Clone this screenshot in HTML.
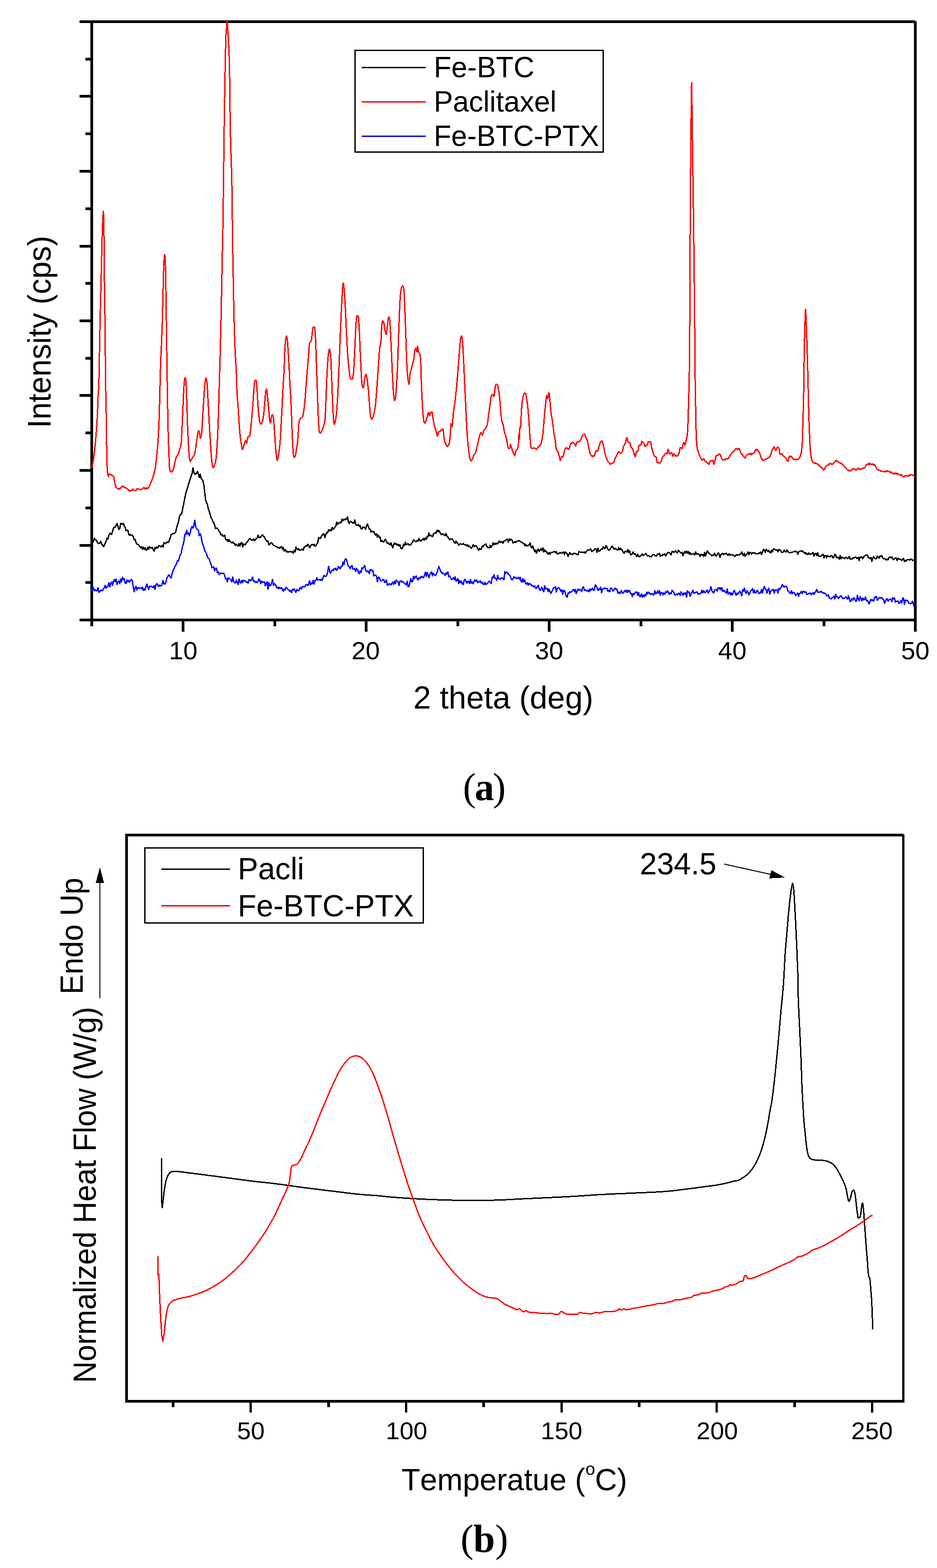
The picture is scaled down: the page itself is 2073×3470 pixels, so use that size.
<!DOCTYPE html>
<html lang="en"><head><meta charset="utf-8"><title>XRD patterns and DSC thermograms</title>
<style>html,body{margin:0;padding:0;background:#fff}svg{display:block}text{font-family:'Liberation Sans', sans-serif;fill:#000;font-kerning:none;white-space:pre}.serif{font-family:'Liberation Serif', serif}</style></head><body>
<svg width="2073" height="3470" viewBox="0 0 2073 3470">
<rect x="0" y="0" width="2073" height="3470" fill="#fff"/>
<g id="chart-a">
<g fill="#000" shape-rendering="crispEdges">
<rect x="176" y="45" width="1849" height="6"/>
<rect x="176" y="1369" width="1852" height="6"/>
<rect x="200" y="45" width="6" height="1341"/>
<rect x="2022" y="47" width="6" height="1351"/>
<rect x="176" y="210" width="26" height="6"/>
<rect x="176" y="376" width="26" height="6"/>
<rect x="176" y="542" width="26" height="6"/>
<rect x="176" y="707" width="26" height="6"/>
<rect x="176" y="872" width="26" height="6"/>
<rect x="176" y="1038" width="26" height="6"/>
<rect x="176" y="1204" width="26" height="6"/>
<rect x="189" y="128" width="13" height="6"/>
<rect x="189" y="293" width="13" height="6"/>
<rect x="189" y="459" width="13" height="6"/>
<rect x="189" y="624" width="13" height="6"/>
<rect x="189" y="790" width="13" height="6"/>
<rect x="189" y="955" width="13" height="6"/>
<rect x="189" y="1121" width="13" height="6"/>
<rect x="189" y="1286" width="13" height="6"/>
<rect x="402" y="1372" width="6" height="26"/>
<rect x="807" y="1372" width="6" height="26"/>
<rect x="1212" y="1372" width="6" height="26"/>
<rect x="1617" y="1372" width="6" height="26"/>
<rect x="605" y="1372" width="6" height="14"/>
<rect x="1010" y="1372" width="6" height="14"/>
<rect x="1415" y="1372" width="6" height="14"/>
<rect x="1820" y="1372" width="6" height="14"/>
</g>
<path d="M202.9 1311.2L204.9 1297.7L206.9 1301.8L208.9 1307.1L210.9 1305.5L212.9 1307.8L214.9 1307.3L216.9 1300.5L218.9 1310.9L220.9 1309.9L222.9 1306.0L224.9 1306.7L226.9 1307.2L228.9 1302.4L230.9 1300.7L232.9 1295.3L234.9 1301.5L236.9 1299.0L238.9 1297.7L240.9 1289.2L242.9 1298.7L244.9 1291.5L246.9 1288.1L248.9 1295.3L250.9 1286.5L252.9 1282.4L254.9 1287.2L256.9 1281.4L258.9 1293.4L260.9 1287.6L262.9 1285.9L264.9 1291.8L266.9 1281.0L268.9 1287.8L270.9 1277.5L272.9 1282.5L274.9 1280.5L276.9 1290.1L278.9 1291.2L280.9 1283.7L282.9 1287.9L284.9 1284.5L286.9 1288.2L288.9 1284.4L290.9 1282.0L292.9 1286.4L294.9 1299.6L296.9 1309.5L298.9 1301.4L300.9 1297.5L302.9 1305.3L304.9 1300.2L306.9 1300.7L308.9 1302.2L310.9 1301.8L312.9 1302.2L314.9 1299.2L316.9 1306.6L318.9 1302.9L320.9 1306.0L322.9 1298.9L324.9 1292.7L326.9 1298.8L328.9 1304.7L330.9 1297.7L332.9 1297.4L334.9 1297.8L336.9 1299.4L338.9 1300.6L340.9 1296.0L342.9 1304.1L344.9 1294.3L346.9 1291.7L348.9 1294.2L350.9 1297.7L352.9 1294.9L354.9 1296.8L356.9 1296.8L358.9 1291.9L360.9 1284.9L362.9 1292.6L364.9 1292.5L366.9 1289.8L368.9 1279.8L370.9 1277.1L372.9 1272.4L374.9 1273.0L376.9 1278.2L378.9 1278.2L380.9 1269.1L382.9 1262.7L384.9 1259.0L386.9 1254.0L388.9 1251.3L390.9 1245.9L392.9 1240.8L394.9 1241.8L396.9 1233.2L398.9 1227.6L400.9 1224.7L402.9 1212.5L404.9 1206.2L406.9 1197.7L408.9 1182.8L410.9 1182.6L412.9 1173.6L414.9 1182.1L416.9 1178.9L418.9 1185.6L420.9 1178.7L422.9 1169.4L424.9 1165.0L426.9 1168.7L428.9 1163.5L430.9 1151.0L432.9 1164.4L434.9 1170.9L436.9 1171.3L438.9 1173.3L440.9 1185.3L442.9 1181.1L444.9 1186.4L446.9 1199.2L448.9 1205.3L450.9 1210.3L452.9 1218.1L454.9 1221.7L456.9 1225.9L458.9 1232.7L460.9 1235.4L462.9 1237.4L464.9 1243.7L466.9 1248.5L468.9 1256.4L470.9 1255.2L472.9 1254.5L474.9 1263.3L476.9 1258.9L478.9 1257.3L480.9 1267.1L482.9 1265.1L484.9 1271.5L486.9 1269.1L488.9 1268.3L490.9 1268.0L492.9 1269.3L494.9 1268.8L496.9 1272.4L498.9 1280.4L500.9 1280.2L502.9 1287.8L504.9 1278.9L506.9 1280.6L508.9 1280.9L510.9 1283.7L512.9 1287.2L514.9 1276.9L516.9 1286.8L518.9 1289.9L520.9 1290.1L522.9 1283.2L524.9 1288.0L526.9 1293.3L528.9 1281.2L530.9 1288.3L532.9 1290.6L534.9 1284.3L536.9 1289.4L538.9 1284.0L540.9 1285.3L542.9 1285.3L544.9 1288.9L546.9 1287.9L548.9 1290.6L550.9 1282.4L552.9 1283.8L554.9 1285.7L556.9 1282.3L558.9 1277.0L560.9 1286.7L562.9 1285.0L564.9 1289.1L566.9 1287.5L568.9 1289.4L570.9 1286.6L572.9 1281.0L574.9 1284.3L576.9 1291.5L578.9 1286.0L580.9 1289.0L582.9 1288.3L584.9 1287.1L586.9 1296.2L588.9 1291.0L590.9 1287.5L592.9 1303.3L594.9 1289.3L596.9 1296.5L598.9 1295.6L600.9 1290.7L602.9 1282.3L604.9 1296.0L606.9 1291.2L608.9 1293.5L610.9 1297.1L612.9 1301.2L614.9 1299.6L616.9 1303.0L618.9 1300.0L620.9 1302.4L622.9 1300.3L624.9 1304.6L626.9 1308.6L628.9 1303.8L630.9 1305.1L632.9 1299.9L634.9 1300.9L636.9 1304.7L638.9 1305.3L640.9 1308.7L642.9 1306.7L644.9 1311.8L646.9 1304.4L648.9 1305.2L650.9 1303.1L652.9 1307.7L654.9 1310.9L656.9 1304.7L658.9 1306.0L660.9 1307.5L662.9 1302.9L664.9 1300.0L666.9 1303.8L668.9 1298.7L670.9 1297.8L672.9 1298.6L674.9 1298.3L676.9 1293.4L678.9 1293.2L680.9 1296.0L682.9 1293.0L684.9 1285.1L686.9 1295.0L688.9 1290.0L690.9 1292.1L692.9 1284.7L694.9 1292.4L696.9 1284.2L698.9 1284.4L700.9 1278.6L702.9 1283.1L704.9 1282.8L706.9 1283.0L708.9 1284.4L710.9 1282.0L712.9 1284.3L714.9 1277.6L716.9 1273.7L718.9 1275.2L720.9 1275.2L722.9 1272.9L724.9 1266.9L726.9 1253.1L728.9 1261.8L730.9 1268.4L732.9 1265.0L734.9 1261.3L736.9 1262.7L738.9 1258.1L740.9 1260.7L742.9 1257.7L744.9 1262.1L746.9 1258.2L748.9 1253.1L750.9 1257.2L752.9 1258.4L754.9 1253.0L756.9 1253.5L758.9 1243.5L760.9 1249.7L762.9 1239.6L764.9 1236.1L766.9 1239.3L768.9 1247.4L770.9 1254.0L772.9 1253.9L774.9 1258.4L776.9 1252.7L778.9 1251.9L780.9 1259.9L782.9 1259.5L784.9 1258.8L786.9 1264.7L788.9 1257.9L790.9 1260.6L792.9 1266.3L794.9 1269.7L796.9 1263.0L798.9 1267.0L800.9 1256.8L802.9 1258.2L804.9 1254.4L806.9 1251.8L808.9 1261.0L810.9 1265.9L812.9 1263.2L814.9 1264.0L816.9 1269.8L818.9 1260.8L820.9 1260.4L822.9 1263.9L824.9 1262.5L826.9 1274.4L828.9 1273.7L830.9 1272.4L832.9 1275.3L834.9 1287.1L836.9 1277.3L838.9 1277.8L840.9 1283.1L842.9 1285.8L844.9 1285.8L846.9 1282.5L848.9 1282.1L850.9 1288.9L852.9 1287.5L854.9 1283.3L856.9 1294.9L858.9 1294.9L860.9 1291.8L862.9 1292.2L864.9 1294.5L866.9 1291.0L868.9 1288.1L870.9 1293.6L872.9 1286.4L874.9 1291.5L876.9 1283.4L878.9 1286.7L880.9 1287.5L882.9 1295.4L884.9 1286.2L886.9 1285.3L888.9 1288.1L890.9 1286.4L892.9 1288.2L894.9 1291.3L896.9 1292.1L898.9 1294.8L900.9 1286.5L902.9 1298.3L904.9 1297.3L906.9 1289.2L908.9 1280.7L910.9 1287.6L912.9 1287.0L914.9 1275.4L916.9 1281.0L918.9 1277.0L920.9 1274.8L922.9 1280.9L924.9 1283.3L926.9 1278.4L928.9 1280.4L930.9 1276.8L932.9 1275.8L934.9 1277.9L936.9 1278.5L938.9 1273.6L940.9 1266.6L942.9 1275.7L944.9 1266.9L946.9 1272.3L948.9 1278.3L950.9 1271.8L952.9 1267.6L954.9 1265.7L956.9 1274.2L958.9 1268.9L960.9 1271.1L962.9 1273.9L964.9 1271.7L966.9 1266.8L968.9 1260.5L970.9 1253.8L972.9 1258.5L974.9 1265.2L976.9 1266.3L978.9 1269.4L980.9 1268.5L982.9 1270.5L984.9 1273.3L986.9 1267.7L988.9 1270.2L990.9 1265.9L992.9 1276.4L994.9 1275.0L996.9 1278.7L998.9 1283.0L1000.9 1281.8L1002.9 1278.2L1004.9 1282.7L1006.9 1276.7L1008.9 1285.4L1010.9 1286.0L1012.9 1280.2L1014.9 1291.3L1016.9 1284.4L1018.9 1289.9L1020.9 1286.5L1022.9 1292.1L1024.9 1293.2L1026.9 1285.0L1028.9 1282.0L1030.9 1286.6L1032.9 1290.7L1034.9 1286.8L1036.9 1286.4L1038.9 1291.6L1040.9 1282.7L1042.9 1290.5L1044.9 1288.0L1046.9 1292.0L1048.9 1286.3L1050.9 1283.1L1052.9 1286.8L1054.9 1283.8L1056.9 1290.0L1058.9 1287.3L1060.9 1287.4L1062.9 1285.2L1064.9 1290.8L1066.9 1288.6L1068.9 1292.4L1070.9 1293.7L1072.9 1288.7L1074.9 1293.2L1076.9 1291.9L1078.9 1291.0L1080.9 1287.4L1082.9 1286.3L1084.9 1289.3L1086.9 1291.1L1088.9 1277.0L1090.9 1278.7L1092.9 1272.3L1094.9 1279.0L1096.9 1280.4L1098.9 1284.6L1100.9 1273.1L1102.9 1280.6L1104.9 1280.0L1106.9 1282.2L1108.9 1279.0L1110.9 1278.3L1112.9 1281.0L1114.9 1282.9L1116.9 1264.9L1118.9 1269.0L1120.9 1266.3L1122.9 1267.0L1124.9 1271.1L1126.9 1272.2L1128.9 1274.4L1130.9 1281.2L1132.9 1283.3L1134.9 1280.6L1136.9 1276.5L1138.9 1279.0L1140.9 1277.6L1142.9 1280.9L1144.9 1279.9L1146.9 1277.8L1148.9 1281.7L1150.9 1277.8L1152.9 1286.0L1154.9 1288.3L1156.9 1280.8L1158.9 1287.5L1160.9 1283.5L1162.9 1291.9L1164.9 1292.3L1166.9 1289.2L1168.9 1295.1L1170.9 1291.5L1172.9 1292.2L1174.9 1293.7L1176.9 1296.2L1178.9 1296.5L1180.9 1299.0L1182.9 1296.2L1184.9 1301.2L1186.9 1302.1L1188.9 1297.5L1190.9 1295.2L1192.9 1303.9L1194.9 1306.4L1196.9 1302.7L1198.9 1299.7L1200.9 1306.0L1202.9 1309.6L1204.9 1296.3L1206.9 1303.8L1208.9 1302.2L1210.9 1302.3L1212.9 1309.2L1214.9 1303.9L1216.9 1309.6L1218.9 1313.3L1220.9 1309.2L1222.9 1304.4L1224.9 1300.1L1226.9 1300.9L1228.9 1298.2L1230.9 1310.1L1232.9 1303.0L1234.9 1300.3L1236.9 1301.4L1238.9 1304.2L1240.9 1308.9L1242.9 1305.2L1244.9 1315.3L1246.9 1306.1L1248.9 1307.1L1250.9 1313.5L1252.9 1320.2L1254.9 1321.3L1256.9 1312.3L1258.9 1312.5L1260.9 1309.6L1262.9 1310.5L1264.9 1309.5L1266.9 1305.2L1268.9 1304.0L1270.9 1309.2L1272.9 1304.3L1274.9 1313.4L1276.9 1308.2L1278.9 1303.8L1280.9 1305.9L1282.9 1304.7L1284.9 1305.6L1286.9 1308.9L1288.9 1300.1L1290.9 1298.7L1292.9 1306.9L1294.9 1305.2L1296.9 1306.8L1298.9 1308.1L1300.9 1306.1L1302.9 1309.8L1304.9 1303.7L1306.9 1307.1L1308.9 1303.7L1310.9 1301.6L1312.9 1306.9L1314.9 1305.7L1316.9 1294.8L1318.9 1295.8L1320.9 1300.6L1322.9 1306.7L1324.9 1303.8L1326.9 1305.0L1328.9 1299.1L1330.9 1311.3L1332.9 1303.0L1334.9 1303.3L1336.9 1301.3L1338.9 1301.3L1340.9 1302.8L1342.9 1302.2L1344.9 1308.7L1346.9 1306.5L1348.9 1309.9L1350.9 1301.5L1352.9 1301.6L1354.9 1305.9L1356.9 1308.1L1358.9 1304.0L1360.9 1301.4L1362.9 1304.1L1364.9 1303.2L1366.9 1312.9L1368.9 1310.8L1370.9 1313.6L1372.9 1311.1L1374.9 1307.0L1376.9 1312.3L1378.9 1313.0L1380.9 1309.0L1382.9 1306.8L1384.9 1310.8L1386.9 1306.0L1388.9 1311.1L1390.9 1306.8L1392.9 1306.9L1394.9 1313.4L1396.9 1313.6L1398.9 1320.2L1400.9 1313.4L1402.9 1315.4L1404.9 1312.3L1406.9 1310.1L1408.9 1309.9L1410.9 1317.5L1412.9 1311.1L1414.9 1319.4L1416.9 1320.4L1418.9 1314.3L1420.9 1321.6L1422.9 1316.9L1424.9 1320.7L1426.9 1315.8L1428.9 1318.6L1430.9 1310.2L1432.9 1314.3L1434.9 1310.7L1436.9 1312.4L1438.9 1315.7L1440.9 1314.2L1442.9 1313.4L1444.9 1316.2L1446.9 1316.4L1448.9 1307.5L1450.9 1313.5L1452.9 1312.9L1454.9 1307.9L1456.9 1312.5L1458.9 1306.9L1460.9 1317.1L1462.9 1311.1L1464.9 1311.7L1466.9 1316.3L1468.9 1311.9L1470.9 1315.1L1472.9 1309.7L1474.9 1311.2L1476.9 1307.8L1478.9 1311.5L1480.9 1315.5L1482.9 1312.1L1484.9 1314.0L1486.9 1306.6L1488.9 1308.5L1490.9 1311.5L1492.9 1316.7L1494.9 1316.3L1496.9 1314.5L1498.9 1316.3L1500.9 1313.0L1502.9 1312.9L1504.9 1317.2L1506.9 1309.9L1508.9 1312.6L1510.9 1317.7L1512.9 1312.3L1514.9 1314.9L1516.9 1311.2L1518.9 1321.4L1520.9 1307.2L1522.9 1310.7L1524.9 1310.5L1526.9 1319.6L1528.9 1314.2L1530.9 1311.0L1532.9 1306.3L1534.9 1312.1L1536.9 1312.7L1538.9 1311.3L1540.9 1309.9L1542.9 1310.8L1544.9 1315.1L1546.9 1314.9L1548.9 1313.6L1550.9 1312.3L1552.9 1306.0L1554.9 1312.0L1556.9 1307.6L1558.9 1311.0L1560.9 1312.0L1562.9 1307.4L1564.9 1305.6L1566.9 1312.4L1568.9 1309.5L1570.9 1305.3L1572.9 1298.3L1574.9 1307.2L1576.9 1310.1L1578.9 1312.4L1580.9 1305.5L1582.9 1304.7L1584.9 1304.4L1586.9 1308.1L1588.9 1300.4L1590.9 1303.7L1592.9 1300.3L1594.9 1305.8L1596.9 1300.7L1598.9 1309.1L1600.9 1306.8L1602.9 1307.8L1604.9 1310.5L1606.9 1312.8L1608.9 1303.6L1610.9 1314.3L1612.9 1313.7L1614.9 1310.9L1616.9 1317.0L1618.9 1312.6L1620.9 1316.2L1622.9 1308.4L1624.9 1306.4L1626.9 1313.0L1628.9 1317.4L1630.9 1312.9L1632.9 1314.8L1634.9 1310.6L1636.9 1308.0L1638.9 1312.4L1640.9 1318.6L1642.9 1305.0L1644.9 1308.4L1646.9 1301.8L1648.9 1309.9L1650.9 1313.6L1652.9 1307.0L1654.9 1310.5L1656.9 1316.7L1658.9 1311.6L1660.9 1307.3L1662.9 1306.0L1664.9 1302.5L1666.9 1311.6L1668.9 1305.9L1670.9 1312.4L1672.9 1311.7L1674.9 1306.6L1676.9 1308.1L1678.9 1313.8L1680.9 1312.4L1682.9 1311.9L1684.9 1304.0L1686.9 1312.1L1688.9 1304.4L1690.9 1297.9L1692.9 1302.3L1694.9 1305.3L1696.9 1312.4L1698.9 1304.5L1700.9 1302.0L1702.9 1315.0L1704.9 1308.4L1706.9 1307.4L1708.9 1304.4L1710.9 1304.2L1712.9 1312.6L1714.9 1305.9L1716.9 1305.0L1718.9 1305.1L1720.9 1312.5L1722.9 1302.7L1724.9 1304.6L1726.9 1300.8L1728.9 1298.6L1730.9 1293.1L1732.9 1297.1L1734.9 1299.5L1736.9 1297.0L1738.9 1297.4L1740.9 1299.6L1742.9 1307.7L1744.9 1308.5L1746.9 1311.6L1748.9 1313.3L1750.9 1307.0L1752.9 1314.1L1754.9 1311.1L1756.9 1311.5L1758.9 1314.1L1760.9 1318.1L1762.9 1315.5L1764.9 1312.2L1766.9 1319.5L1768.9 1313.6L1770.9 1312.1L1772.9 1308.6L1774.9 1313.7L1776.9 1308.5L1778.9 1308.9L1780.9 1310.9L1782.9 1309.7L1784.9 1315.2L1786.9 1314.7L1788.9 1313.8L1790.9 1313.6L1792.9 1312.4L1794.9 1316.1L1796.9 1313.3L1798.9 1311.3L1800.9 1315.3L1802.9 1311.9L1804.9 1308.9L1806.9 1304.1L1808.9 1310.2L1810.9 1310.5L1812.9 1310.8L1814.9 1310.0L1816.9 1308.9L1818.9 1311.1L1820.9 1312.8L1822.9 1311.9L1824.9 1313.4L1826.9 1313.7L1828.9 1318.1L1830.9 1319.0L1832.9 1316.8L1834.9 1323.5L1836.9 1324.6L1838.9 1325.4L1840.9 1322.7L1842.9 1323.0L1844.9 1319.2L1846.9 1325.8L1848.9 1315.1L1850.9 1321.0L1852.9 1320.8L1854.9 1324.7L1856.9 1321.8L1858.9 1319.3L1860.9 1318.7L1862.9 1322.1L1864.9 1324.9L1866.9 1324.5L1868.9 1323.4L1870.9 1321.2L1872.9 1322.3L1874.9 1326.0L1876.9 1318.6L1878.9 1324.2L1880.9 1331.4L1882.9 1329.1L1884.9 1325.0L1886.9 1328.5L1888.9 1322.9L1890.9 1325.1L1892.9 1330.2L1894.9 1330.9L1896.9 1317.5L1898.9 1325.6L1900.9 1329.6L1902.9 1320.2L1904.9 1323.8L1906.9 1329.3L1908.9 1323.1L1910.9 1327.5L1912.9 1326.7L1914.9 1321.0L1916.9 1330.0L1918.9 1328.1L1920.9 1332.1L1922.9 1336.3L1924.9 1330.9L1926.9 1326.6L1928.9 1329.0L1930.9 1327.8L1932.9 1330.8L1934.9 1321.9L1936.9 1322.9L1938.9 1319.2L1940.9 1328.3L1942.9 1325.5L1944.9 1323.1L1946.9 1322.8L1948.9 1323.4L1950.9 1322.5L1952.9 1326.2L1954.9 1327.1L1956.9 1335.3L1958.9 1330.7L1960.9 1325.6L1962.9 1325.5L1964.9 1330.9L1966.9 1327.2L1968.9 1325.6L1970.9 1326.6L1972.9 1331.2L1974.9 1322.6L1976.9 1325.8L1978.9 1323.3L1980.9 1332.4L1982.9 1330.2L1984.9 1330.0L1986.9 1330.1L1988.9 1335.9L1990.9 1333.2L1992.9 1329.8L1994.9 1334.2L1996.9 1324.0L1998.9 1323.2L2000.9 1337.4L2002.9 1328.5L2004.9 1328.7L2006.9 1328.5L2008.9 1331.1L2010.9 1335.0L2012.9 1335.8L2014.9 1336.1L2016.9 1334.1L2018.9 1330.5L2020.9 1337.5L2022.9 1342.5" fill="none" stroke="#0000ff" stroke-width="3.0" stroke-linejoin="round" stroke-linecap="butt" shape-rendering="crispEdges"/>
<path d="M202.9 1205.0L204.9 1200.3L206.9 1198.0L208.9 1191.8L210.9 1194.1L212.9 1194.9L214.9 1199.6L216.9 1202.3L218.9 1203.1L220.9 1201.0L222.9 1198.0L224.9 1204.0L226.9 1206.0L228.9 1209.9L230.9 1206.8L232.9 1201.8L234.9 1197.4L236.9 1191.0L238.9 1193.1L240.9 1184.1L242.9 1180.5L244.9 1180.8L246.9 1182.9L248.9 1176.3L250.9 1169.3L252.9 1166.4L254.9 1167.1L256.9 1162.7L258.9 1158.8L260.9 1164.9L262.9 1171.4L264.9 1170.1L266.9 1158.1L268.9 1159.2L270.9 1160.3L272.9 1158.2L274.9 1164.5L276.9 1166.9L278.9 1174.3L280.9 1173.3L282.9 1173.5L284.9 1183.0L286.9 1184.6L288.9 1182.7L290.9 1184.8L292.9 1184.2L294.9 1188.1L296.9 1194.7L298.9 1193.8L300.9 1200.4L302.9 1204.0L304.9 1204.1L306.9 1205.9L308.9 1208.9L310.9 1212.8L312.9 1209.6L314.9 1215.9L316.9 1210.9L318.9 1215.4L320.9 1212.1L322.9 1217.6L324.9 1216.7L326.9 1211.4L328.9 1215.3L330.9 1209.9L332.9 1212.4L334.9 1212.9L336.9 1211.2L338.9 1216.2L340.9 1219.9L342.9 1211.3L344.9 1214.4L346.9 1210.3L348.9 1213.0L350.9 1207.9L352.9 1208.2L354.9 1209.6L356.9 1210.2L358.9 1206.9L360.9 1210.3L362.9 1200.3L364.9 1202.7L366.9 1203.1L368.9 1199.1L370.9 1200.3L372.9 1200.1L374.9 1194.6L376.9 1189.2L378.9 1182.1L380.9 1182.0L382.9 1180.8L384.9 1181.0L386.9 1179.9L388.9 1176.9L390.9 1167.2L392.9 1160.8L394.9 1154.7L396.9 1143.9L398.9 1138.5L400.9 1138.3L402.9 1133.2L404.9 1121.7L406.9 1112.7L408.9 1102.2L410.9 1092.3L412.9 1085.7L414.9 1080.0L416.9 1072.4L418.9 1065.7L420.9 1060.0L422.9 1054.0L424.9 1048.2L426.9 1035.6L428.9 1044.9L430.9 1049.4L432.9 1049.2L434.9 1047.0L436.9 1043.1L438.9 1049.1L440.9 1056.9L442.9 1049.5L444.9 1058.1L446.9 1061.3L448.9 1063.9L450.9 1072.6L452.9 1090.2L454.9 1106.8L456.9 1111.7L458.9 1116.3L460.9 1126.1L462.9 1131.1L464.9 1138.9L466.9 1145.2L468.9 1148.5L470.9 1154.1L472.9 1156.3L474.9 1161.7L476.9 1169.7L478.9 1169.0L480.9 1168.9L482.9 1172.5L484.9 1176.2L486.9 1178.0L488.9 1184.0L490.9 1182.6L492.9 1186.9L494.9 1185.5L496.9 1184.1L498.9 1192.5L500.9 1195.6L502.9 1193.3L504.9 1199.0L506.9 1194.5L508.9 1198.5L510.9 1199.4L512.9 1201.4L514.9 1199.7L516.9 1202.3L518.9 1203.1L520.9 1207.0L522.9 1204.1L524.9 1207.7L526.9 1208.4L528.9 1202.9L530.9 1208.5L532.9 1201.7L534.9 1200.9L536.9 1210.5L538.9 1203.7L540.9 1205.8L542.9 1205.7L544.9 1200.7L546.9 1199.9L548.9 1196.1L550.9 1193.9L552.9 1191.6L554.9 1193.9L556.9 1195.4L558.9 1195.5L560.9 1192.3L562.9 1196.2L564.9 1195.1L566.9 1191.6L568.9 1190.6L570.9 1184.2L572.9 1189.7L574.9 1189.9L576.9 1188.3L578.9 1184.6L580.9 1183.6L582.9 1186.9L584.9 1187.5L586.9 1192.9L588.9 1195.8L590.9 1198.3L592.9 1197.3L594.9 1205.6L596.9 1204.2L598.9 1201.6L600.9 1201.1L602.9 1203.4L604.9 1206.5L606.9 1207.4L608.9 1208.6L610.9 1209.3L612.9 1210.7L614.9 1212.2L616.9 1211.2L618.9 1213.2L620.9 1210.9L622.9 1209.9L624.9 1215.6L626.9 1211.9L628.9 1219.8L630.9 1216.2L632.9 1218.9L634.9 1221.9L636.9 1220.3L638.9 1222.0L640.9 1220.9L642.9 1220.7L644.9 1221.9L646.9 1220.8L648.9 1224.3L650.9 1218.0L652.9 1221.3L654.9 1210.7L656.9 1215.7L658.9 1216.3L660.9 1214.1L662.9 1218.0L664.9 1217.4L666.9 1215.4L668.9 1215.2L670.9 1217.9L672.9 1210.7L674.9 1209.9L676.9 1207.6L678.9 1208.5L680.9 1204.6L682.9 1206.7L684.9 1212.4L686.9 1208.7L688.9 1205.8L690.9 1204.9L692.9 1206.2L694.9 1204.3L696.9 1209.0L698.9 1207.8L700.9 1204.2L702.9 1201.1L704.9 1189.3L706.9 1191.6L708.9 1191.6L710.9 1186.4L712.9 1184.2L714.9 1181.4L716.9 1182.0L718.9 1190.0L720.9 1183.0L722.9 1178.6L724.9 1179.1L726.9 1172.6L728.9 1174.2L730.9 1172.4L732.9 1175.0L734.9 1167.2L736.9 1171.9L738.9 1169.9L740.9 1166.2L742.9 1164.5L744.9 1155.1L746.9 1160.7L748.9 1157.6L750.9 1157.7L752.9 1155.7L754.9 1156.7L756.9 1148.9L758.9 1152.2L760.9 1149.2L762.9 1150.2L764.9 1148.2L766.9 1148.6L768.9 1143.9L770.9 1155.6L772.9 1158.5L774.9 1153.3L776.9 1154.5L778.9 1156.0L780.9 1157.8L782.9 1158.0L784.9 1150.4L786.9 1159.8L788.9 1163.0L790.9 1162.4L792.9 1160.6L794.9 1165.0L796.9 1162.9L798.9 1170.8L800.9 1170.8L802.9 1166.6L804.9 1166.6L806.9 1167.6L808.9 1171.6L810.9 1163.5L812.9 1159.3L814.9 1165.5L816.9 1170.5L818.9 1171.2L820.9 1177.6L822.9 1175.3L824.9 1176.8L826.9 1176.5L828.9 1181.5L830.9 1184.2L832.9 1181.0L834.9 1188.2L836.9 1184.2L838.9 1189.6L840.9 1188.1L842.9 1198.5L844.9 1196.0L846.9 1198.6L848.9 1200.0L850.9 1195.1L852.9 1193.3L854.9 1198.5L856.9 1202.3L858.9 1201.4L860.9 1204.1L862.9 1205.6L864.9 1201.3L866.9 1207.1L868.9 1212.6L870.9 1205.5L872.9 1201.0L874.9 1204.3L876.9 1203.8L878.9 1206.6L880.9 1204.3L882.9 1208.7L884.9 1205.3L886.9 1213.9L888.9 1214.2L890.9 1212.1L892.9 1204.0L894.9 1207.4L896.9 1199.9L898.9 1205.3L900.9 1204.8L902.9 1203.0L904.9 1206.7L906.9 1205.5L908.9 1205.5L910.9 1201.5L912.9 1200.0L914.9 1194.8L916.9 1196.7L918.9 1198.3L920.9 1198.7L922.9 1195.9L924.9 1197.6L926.9 1191.7L928.9 1196.2L930.9 1197.3L932.9 1194.7L934.9 1194.9L936.9 1191.2L938.9 1195.4L940.9 1190.8L942.9 1193.7L944.9 1187.8L946.9 1188.1L948.9 1179.8L950.9 1185.7L952.9 1184.8L954.9 1186.1L956.9 1187.9L958.9 1181.8L960.9 1180.1L962.9 1178.8L964.9 1179.8L966.9 1173.4L968.9 1176.8L970.9 1174.0L972.9 1177.0L974.9 1181.5L976.9 1183.5L978.9 1181.1L980.9 1182.0L982.9 1184.4L984.9 1185.2L986.9 1180.8L988.9 1186.2L990.9 1188.2L992.9 1191.6L994.9 1194.9L996.9 1192.6L998.9 1193.2L1000.9 1192.7L1002.9 1196.9L1004.9 1199.9L1006.9 1202.4L1008.9 1197.8L1010.9 1201.0L1012.9 1202.9L1014.9 1206.4L1016.9 1204.1L1018.9 1203.7L1020.9 1204.4L1022.9 1204.4L1024.9 1202.8L1026.9 1205.6L1028.9 1205.4L1030.9 1205.9L1032.9 1208.3L1034.9 1205.8L1036.9 1209.3L1038.9 1208.9L1040.9 1211.3L1042.9 1213.6L1044.9 1210.1L1046.9 1205.2L1048.9 1209.3L1050.9 1208.7L1052.9 1207.3L1054.9 1209.7L1056.9 1214.9L1058.9 1217.6L1060.9 1213.4L1062.9 1216.0L1064.9 1215.4L1066.9 1208.8L1068.9 1209.5L1070.9 1206.8L1072.9 1205.2L1074.9 1203.9L1076.9 1208.5L1078.9 1211.5L1080.9 1211.6L1082.9 1212.6L1084.9 1206.9L1086.9 1211.2L1088.9 1207.3L1090.9 1201.4L1092.9 1205.9L1094.9 1202.7L1096.9 1204.3L1098.9 1201.9L1100.9 1203.5L1102.9 1199.7L1104.9 1197.1L1106.9 1200.6L1108.9 1199.4L1110.9 1198.3L1112.9 1202.1L1114.9 1197.6L1116.9 1196.5L1118.9 1196.2L1120.9 1193.2L1122.9 1194.5L1124.9 1199.5L1126.9 1192.3L1128.9 1195.3L1130.9 1193.4L1132.9 1195.4L1134.9 1201.3L1136.9 1201.0L1138.9 1198.6L1140.9 1200.5L1142.9 1198.0L1144.9 1197.6L1146.9 1196.8L1148.9 1196.4L1150.9 1198.8L1152.9 1199.0L1154.9 1200.7L1156.9 1202.1L1158.9 1202.3L1160.9 1207.2L1162.9 1204.6L1164.9 1208.4L1166.9 1207.2L1168.9 1207.6L1170.9 1205.0L1172.9 1201.5L1174.9 1209.6L1176.9 1212.8L1178.9 1208.8L1180.9 1215.2L1182.9 1220.4L1184.9 1217.6L1186.9 1224.3L1188.9 1217.8L1190.9 1214.9L1192.9 1220.3L1194.9 1217.2L1196.9 1214.4L1198.9 1218.4L1200.9 1212.1L1202.9 1221.7L1204.9 1216.4L1206.9 1220.6L1208.9 1220.6L1210.9 1224.2L1212.9 1226.5L1214.9 1222.4L1216.9 1226.2L1218.9 1223.6L1220.9 1222.3L1222.9 1222.9L1224.9 1220.5L1226.9 1220.4L1228.9 1223.9L1230.9 1220.6L1232.9 1225.7L1234.9 1225.9L1236.9 1224.4L1238.9 1222.3L1240.9 1223.7L1242.9 1224.4L1244.9 1222.9L1246.9 1221.9L1248.9 1227.3L1250.9 1221.7L1252.9 1223.0L1254.9 1226.3L1256.9 1231.3L1258.9 1226.8L1260.9 1222.9L1262.9 1226.2L1264.9 1226.0L1266.9 1227.2L1268.9 1224.4L1270.9 1224.0L1272.9 1225.6L1274.9 1225.3L1276.9 1227.1L1278.9 1227.7L1280.9 1220.9L1282.9 1221.4L1284.9 1222.5L1286.9 1221.5L1288.9 1222.8L1290.9 1222.3L1292.9 1221.6L1294.9 1224.2L1296.9 1220.6L1298.9 1218.3L1300.9 1216.6L1302.9 1217.4L1304.9 1216.8L1306.9 1214.8L1308.9 1220.9L1310.9 1219.7L1312.9 1218.0L1314.9 1216.4L1316.9 1214.2L1318.9 1215.5L1320.9 1222.6L1322.9 1213.4L1324.9 1219.5L1326.9 1219.9L1328.9 1216.9L1330.9 1214.3L1332.9 1215.6L1334.9 1209.9L1336.9 1212.6L1338.9 1213.5L1340.9 1207.3L1342.9 1210.5L1344.9 1215.4L1346.9 1217.5L1348.9 1217.1L1350.9 1214.3L1352.9 1209.9L1354.9 1208.9L1356.9 1213.7L1358.9 1215.5L1360.9 1213.2L1362.9 1215.6L1364.9 1215.9L1366.9 1217.2L1368.9 1211.9L1370.9 1216.5L1372.9 1213.3L1374.9 1216.1L1376.9 1217.7L1378.9 1222.0L1380.9 1224.6L1382.9 1219.9L1384.9 1220.5L1386.9 1221.7L1388.9 1216.0L1390.9 1222.3L1392.9 1219.0L1394.9 1227.4L1396.9 1227.6L1398.9 1224.8L1400.9 1221.2L1402.9 1226.8L1404.9 1225.9L1406.9 1228.1L1408.9 1231.7L1410.9 1226.6L1412.9 1231.3L1414.9 1232.1L1416.9 1230.0L1418.9 1229.1L1420.9 1225.9L1422.9 1229.3L1424.9 1227.7L1426.9 1226.8L1428.9 1224.9L1430.9 1228.7L1432.9 1230.6L1434.9 1229.5L1436.9 1231.4L1438.9 1232.0L1440.9 1232.1L1442.9 1228.3L1444.9 1227.6L1446.9 1227.6L1448.9 1229.2L1450.9 1230.2L1452.9 1230.2L1454.9 1225.9L1456.9 1226.5L1458.9 1224.7L1460.9 1231.2L1462.9 1228.2L1464.9 1229.9L1466.9 1226.8L1468.9 1227.3L1470.9 1225.7L1472.9 1230.4L1474.9 1226.2L1476.9 1223.9L1478.9 1222.1L1480.9 1222.9L1482.9 1225.7L1484.9 1228.0L1486.9 1220.1L1488.9 1220.8L1490.9 1222.2L1492.9 1221.1L1494.9 1218.7L1496.9 1222.7L1498.9 1223.6L1500.9 1217.0L1502.9 1220.3L1504.9 1222.4L1506.9 1223.9L1508.9 1222.1L1510.9 1229.7L1512.9 1224.5L1514.9 1220.2L1516.9 1223.6L1518.9 1219.1L1520.9 1224.9L1522.9 1220.7L1524.9 1226.2L1526.9 1222.9L1528.9 1227.1L1530.9 1226.1L1532.9 1225.9L1534.9 1225.5L1536.9 1228.5L1538.9 1221.4L1540.9 1226.2L1542.9 1225.7L1544.9 1225.8L1546.9 1227.0L1548.9 1231.2L1550.9 1226.3L1552.9 1228.4L1554.9 1227.4L1556.9 1231.3L1558.9 1222.3L1560.9 1230.2L1562.9 1223.5L1564.9 1219.0L1566.9 1222.3L1568.9 1225.0L1570.9 1226.4L1572.9 1227.5L1574.9 1230.1L1576.9 1228.6L1578.9 1229.0L1580.9 1224.0L1582.9 1229.8L1584.9 1230.5L1586.9 1226.8L1588.9 1223.8L1590.9 1225.6L1592.9 1233.3L1594.9 1227.1L1596.9 1226.0L1598.9 1224.6L1600.9 1227.9L1602.9 1225.4L1604.9 1225.2L1606.9 1224.0L1608.9 1226.9L1610.9 1229.1L1612.9 1225.8L1614.9 1228.5L1616.9 1227.3L1618.9 1227.7L1620.9 1228.3L1622.9 1228.5L1624.9 1231.4L1626.9 1230.6L1628.9 1227.5L1630.9 1228.7L1632.9 1227.7L1634.9 1228.2L1636.9 1226.5L1638.9 1226.1L1640.9 1221.1L1642.9 1226.5L1644.9 1229.8L1646.9 1224.4L1648.9 1231.1L1650.9 1227.5L1652.9 1225.8L1654.9 1221.4L1656.9 1227.9L1658.9 1222.4L1660.9 1223.2L1662.9 1226.2L1664.9 1223.0L1666.9 1223.5L1668.9 1222.9L1670.9 1224.9L1672.9 1226.0L1674.9 1225.3L1676.9 1225.3L1678.9 1223.5L1680.9 1224.6L1682.9 1221.6L1684.9 1227.1L1686.9 1221.8L1688.9 1215.7L1690.9 1217.1L1692.9 1222.7L1694.9 1215.2L1696.9 1218.0L1698.9 1220.6L1700.9 1217.6L1702.9 1222.6L1704.9 1223.7L1706.9 1217.4L1708.9 1221.4L1710.9 1215.6L1712.9 1214.3L1714.9 1216.7L1716.9 1217.7L1718.9 1216.7L1720.9 1221.1L1722.9 1216.0L1724.9 1217.8L1726.9 1217.5L1728.9 1222.1L1730.9 1222.2L1732.9 1221.9L1734.9 1217.2L1736.9 1220.8L1738.9 1221.8L1740.9 1217.0L1742.9 1219.1L1744.9 1222.9L1746.9 1223.2L1748.9 1222.2L1750.9 1222.7L1752.9 1222.0L1754.9 1221.3L1756.9 1220.9L1758.9 1219.3L1760.9 1221.0L1762.9 1220.4L1764.9 1226.6L1766.9 1221.2L1768.9 1220.2L1770.9 1219.4L1772.9 1219.3L1774.9 1218.7L1776.9 1221.9L1778.9 1222.0L1780.9 1225.5L1782.9 1222.9L1784.9 1225.9L1786.9 1227.7L1788.9 1223.3L1790.9 1226.4L1792.9 1226.6L1794.9 1225.2L1796.9 1225.2L1798.9 1222.5L1800.9 1230.2L1802.9 1225.5L1804.9 1224.7L1806.9 1229.3L1808.9 1223.3L1810.9 1230.8L1812.9 1230.4L1814.9 1231.6L1816.9 1230.1L1818.9 1227.8L1820.9 1226.4L1822.9 1234.5L1824.9 1229.7L1826.9 1229.4L1828.9 1234.2L1830.9 1229.5L1832.9 1231.2L1834.9 1231.9L1836.9 1232.2L1838.9 1229.5L1840.9 1230.1L1842.9 1234.3L1844.9 1233.5L1846.9 1226.4L1848.9 1228.0L1850.9 1234.1L1852.9 1233.8L1854.9 1233.8L1856.9 1237.3L1858.9 1229.8L1860.9 1236.3L1862.9 1233.1L1864.9 1234.6L1866.9 1234.4L1868.9 1236.3L1870.9 1233.8L1872.9 1233.1L1874.9 1236.3L1876.9 1234.8L1878.9 1231.2L1880.9 1237.2L1882.9 1236.7L1884.9 1237.4L1886.9 1234.4L1888.9 1235.2L1890.9 1233.7L1892.9 1232.4L1894.9 1235.1L1896.9 1235.6L1898.9 1233.9L1900.9 1240.2L1902.9 1232.2L1904.9 1233.3L1906.9 1232.7L1908.9 1236.4L1910.9 1231.8L1912.9 1230.9L1914.9 1228.9L1916.9 1228.7L1918.9 1228.1L1920.9 1234.3L1922.9 1234.1L1924.9 1236.1L1926.9 1233.5L1928.9 1242.1L1930.9 1234.7L1932.9 1231.8L1934.9 1235.7L1936.9 1236.4L1938.9 1236.4L1940.9 1230.7L1942.9 1233.0L1944.9 1235.7L1946.9 1230.3L1948.9 1231.4L1950.9 1229.7L1952.9 1234.6L1954.9 1236.3L1956.9 1236.3L1958.9 1237.2L1960.9 1239.4L1962.9 1237.1L1964.9 1238.9L1966.9 1233.3L1968.9 1232.7L1970.9 1234.4L1972.9 1232.3L1974.9 1236.0L1976.9 1238.3L1978.9 1236.6L1980.9 1234.4L1982.9 1235.0L1984.9 1240.5L1986.9 1235.5L1988.9 1237.8L1990.9 1237.2L1992.9 1238.2L1994.9 1240.9L1996.9 1237.1L1998.9 1235.5L2000.9 1243.0L2002.9 1240.6L2004.9 1241.7L2006.9 1238.4L2008.9 1238.7L2010.9 1238.2L2012.9 1239.6L2014.9 1237.0L2016.9 1238.1L2018.9 1240.2L2020.9 1239.4L2022.9 1239.9" fill="none" stroke="#000" stroke-width="3.0" stroke-linejoin="round" stroke-linecap="butt" shape-rendering="crispEdges"/>
<path d="M202.9 1035.7L203.9 1032.0L204.9 1027.3L205.9 1021.8L206.9 1015.7L207.0 1015.4L207.9 1008.6L208.9 1000.2L209.9 990.7L210.9 980.4L211.9 969.3L212.0 968.2L212.9 957.7L213.9 944.6L214.9 929.3L215.4 921.1L215.9 908.5L216.9 880.2L217.4 870.5L217.9 865.6L218.4 860.1L218.9 843.6L219.9 786.6L220.1 776.9L220.9 735.1L221.4 709.5L221.9 689.7L222.9 650.7L223.1 642.2L223.9 610.8L224.8 574.8L224.9 570.7L225.9 527.9L226.5 507.4L226.9 496.0L227.8 477.1L227.9 476.2L228.9 467.6L228.9 467.8L229.9 507.4L229.9 510.3L230.5 574.8L230.9 613.7L231.2 642.2L231.9 687.5L232.2 709.5L232.9 776.9L232.9 778.2L233.9 860.1L233.9 860.3L234.6 887.4L234.9 906.7L235.6 954.8L235.9 978.6L236.6 1022.2L236.9 1030.1L237.9 1045.4L238.0 1045.7L238.9 1051.5L239.9 1054.2L240.0 1054.0L240.9 1052.4L241.9 1049.4L242.3 1049.1L242.9 1049.0L243.9 1049.5L244.9 1049.9L245.9 1050.8L246.9 1051.6L247.4 1051.8L247.9 1052.1L248.9 1052.5L249.9 1053.2L250.9 1053.7L251.4 1054.3L251.9 1055.5L252.9 1061.7L253.9 1068.4L254.1 1069.4L254.9 1072.4L255.9 1076.0L256.9 1078.7L257.5 1079.0L257.9 1079.7L258.9 1080.3L259.9 1081.0L260.9 1081.5L261.9 1081.8L262.9 1083.0L263.9 1082.1L264.2 1081.1L264.9 1081.9L265.9 1081.3L266.9 1080.0L267.9 1078.9L268.9 1078.0L269.3 1076.5L269.9 1077.5L270.9 1076.0L271.9 1076.8L272.7 1077.3L272.9 1076.8L273.9 1077.6L274.9 1077.5L275.9 1079.0L276.9 1078.9L277.7 1079.8L277.9 1079.6L278.9 1080.5L279.9 1080.8L280.9 1081.6L281.9 1082.2L282.8 1083.6L282.9 1082.9L283.9 1083.4L284.9 1084.9L285.9 1085.8L286.9 1086.6L287.8 1087.2L287.9 1086.8L288.9 1085.4L289.9 1085.9L290.9 1085.9L291.9 1084.2L292.9 1082.8L293.9 1082.9L294.6 1082.7L294.9 1082.9L295.9 1084.8L296.9 1084.9L297.9 1085.4L298.6 1086.2L298.9 1085.7L299.9 1085.6L300.9 1085.6L301.9 1083.7L302.9 1082.0L303.9 1082.0L304.7 1081.4L304.9 1081.8L305.9 1082.4L306.9 1082.2L307.9 1083.0L308.9 1083.0L309.9 1083.8L310.9 1083.5L311.4 1083.8L311.9 1083.4L312.9 1083.9L313.9 1082.2L314.9 1082.0L315.9 1080.5L316.9 1080.2L317.9 1079.4L318.1 1078.8L318.9 1079.8L319.9 1080.4L320.9 1081.9L321.5 1080.4L321.9 1082.1L322.9 1082.6L323.9 1081.7L324.9 1079.8L325.9 1080.9L326.9 1081.0L327.9 1079.7L328.2 1080.3L328.9 1078.8L329.9 1077.0L330.9 1075.1L331.9 1072.6L332.9 1070.2L333.3 1069.3L333.9 1067.9L334.9 1065.6L335.9 1062.9L336.9 1060.1L337.9 1057.2L338.4 1055.8L338.9 1054.1L339.9 1050.7L340.9 1047.1L341.9 1042.9L342.9 1038.3L343.4 1035.7L343.9 1032.6L344.9 1025.4L345.9 1016.8L346.8 1008.7L346.9 1007.4L347.9 997.3L348.9 985.8L349.9 972.0L350.1 968.2L350.9 954.4L351.9 931.0L352.5 914.3L352.9 900.0L353.9 860.4L353.9 858.2L354.9 820.1L355.2 810.6L355.9 791.3L356.9 767.7L357.2 760.1L357.9 743.8L358.9 719.3L359.2 709.5L359.9 684.5L360.9 642.8L360.9 642.2L361.9 603.7L362.9 575.3L363.0 574.8L363.9 564.7L364.3 563.3L364.9 566.1L365.6 574.8L365.9 581.6L366.9 637.3L367.0 642.2L367.9 703.2L368.0 709.5L368.9 769.9L369.0 776.9L369.9 836.7L370.0 844.3L370.7 887.4L370.9 899.3L371.9 949.3L372.0 954.8L372.9 983.6L373.7 1005.3L373.9 1009.7L374.9 1033.1L375.4 1039.0L375.9 1041.1L376.9 1043.9L377.8 1044.8L377.9 1044.7L378.9 1043.3L379.9 1043.8L380.9 1043.1L381.5 1042.4L381.9 1041.9L382.9 1040.0L383.9 1037.7L384.5 1035.6L384.9 1034.1L385.9 1029.0L386.9 1023.5L387.2 1022.2L387.9 1019.2L388.9 1015.3L389.9 1012.0L390.6 1010.4L390.9 1010.2L391.9 1008.2L392.9 1007.1L393.9 1005.4L393.9 1005.2L394.9 1003.0L395.9 1000.0L396.9 996.6L397.3 995.3L397.9 993.3L398.9 990.2L399.9 986.2L400.7 981.7L400.9 979.7L401.9 963.5L402.4 954.8L402.9 944.4L403.9 922.8L404.7 904.2L404.9 899.9L405.9 874.0L406.4 863.8L406.9 856.2L407.9 844.0L408.4 840.2L408.9 838.0L409.8 836.7L409.9 835.9L410.9 839.7L411.5 843.6L411.9 850.5L412.9 880.2L413.2 887.4L413.9 910.5L414.8 937.9L414.9 939.8L415.9 962.9L416.9 981.7L416.9 982.7L417.9 1000.8L418.5 1008.7L418.9 1011.6L419.9 1018.4L420.9 1021.1L420.9 1022.1L421.9 1020.3L422.9 1018.1L423.9 1016.1L424.3 1015.3L424.9 1014.4L425.9 1012.7L426.9 1011.5L427.6 1010.0L427.9 1009.9L428.9 1008.5L429.9 1006.5L430.9 1004.0L431.0 1003.6L431.9 999.1L432.9 991.8L433.4 988.4L433.9 984.5L434.9 976.7L435.9 969.3L436.1 968.2L436.9 962.4L437.9 956.4L438.4 954.8L438.9 953.9L439.8 953.1L439.9 953.1L440.9 956.8L441.8 961.5L441.9 962.1L442.9 968.4L443.5 969.9L443.9 969.7L444.9 965.9L445.9 960.0L446.2 958.1L446.9 949.6L447.9 932.0L448.5 921.1L448.9 914.9L449.9 898.1L450.9 881.9L451.2 877.3L451.9 867.2L452.9 853.4L453.6 847.0L453.9 844.6L454.9 838.5L455.6 836.6L455.9 837.1L456.9 840.5L457.9 846.6L458.0 847.0L458.9 859.5L459.9 879.5L460.3 887.4L460.9 898.2L461.9 917.4L462.9 936.0L463.0 937.9L463.9 953.1L464.9 969.3L465.7 981.7L465.9 984.8L466.9 1000.5L467.9 1013.8L468.1 1015.4L468.9 1023.2L469.9 1030.4L470.4 1032.3L470.9 1032.7L471.9 1034.4L472.5 1033.5L472.9 1034.3L473.9 1031.8L474.8 1028.9L474.9 1028.7L475.9 1025.2L476.9 1021.0L477.9 1015.5L478.2 1013.7L478.9 1006.6L479.9 992.1L480.5 981.7L480.9 975.1L481.9 953.8L482.6 937.9L482.9 928.6L483.9 898.4L484.2 887.4L484.9 862.0L485.6 836.8L485.9 828.0L485.9 827.5L486.9 791.4L487.3 776.9L487.9 752.6L488.9 711.8L489.0 709.5L489.9 662.5L490.3 642.2L490.9 612.1L491.7 574.8L491.9 562.4L492.9 512.7L493.0 507.4L493.9 447.6L494.0 440.0L494.9 367.3L495.9 286.2L496.0 280.0L496.9 221.8L497.9 165.4L498.4 140.0L498.9 112.9L499.6 85.0L499.9 78.6L500.9 64.8L501.3 60.0L501.9 50.5L502.4 46.7L502.9 50.8L503.5 60.0L503.9 65.5L504.9 80.0L505.2 85.0L505.9 98.2L506.9 121.3L507.5 140.0L507.9 161.2L508.9 239.9L509.5 280.0L509.9 299.5L510.9 335.7L511.9 366.3L512.9 404.8L513.6 440.0L513.9 474.0L514.2 507.4L514.9 555.1L515.2 574.8L515.9 609.5L516.6 642.2L516.9 658.9L517.9 708.5L517.9 709.5L518.9 741.6L519.9 767.9L520.3 776.9L520.9 789.0L521.9 805.0L522.9 825.3L523.0 827.5L523.7 853.7L523.9 859.3L524.9 876.8L525.9 889.6L526.9 902.4L527.0 904.2L527.9 918.1L528.9 934.5L529.9 949.0L530.4 954.8L530.9 959.8L531.9 968.7L532.9 976.1L533.8 981.7L533.9 982.6L534.9 989.2L535.9 994.3L536.5 994.9L536.9 994.9L537.9 992.2L538.9 988.3L539.8 985.0L539.9 984.9L540.9 981.9L541.9 978.5L542.9 976.0L543.9 975.0L543.9 975.4L544.9 978.3L545.6 981.2L545.9 979.7L546.9 975.6L547.9 970.0L548.9 966.6L548.9 966.6L549.9 965.2L550.9 965.7L551.9 964.8L552.3 964.9L552.9 962.7L553.9 954.8L554.7 948.0L554.9 945.9L555.9 936.5L556.9 926.0L557.4 921.1L557.9 914.7L558.9 902.4L559.9 889.3L560.1 887.4L560.9 874.5L561.9 859.4L562.4 853.7L562.9 848.9L563.9 842.1L564.1 842.1L564.9 841.9L565.9 841.1L566.8 841.9L566.9 842.0L567.9 851.0L568.1 853.7L568.9 865.3L569.9 883.5L570.2 887.4L570.9 898.2L571.9 911.3L572.5 917.7L572.9 921.3L573.9 929.7L574.9 934.6L574.9 934.8L575.9 936.9L576.9 938.1L577.6 938.6L577.9 938.4L578.9 937.1L579.9 934.5L580.9 931.3L580.9 931.2L581.9 926.9L582.9 920.6L583.3 917.7L583.9 912.1L584.9 900.3L585.9 888.3L586.0 887.4L586.9 876.6L587.9 866.2L588.4 863.8L588.9 862.2L589.7 860.9L589.9 861.4L590.9 868.9L591.7 877.3L591.9 879.0L592.9 888.5L593.9 898.8L594.4 904.2L594.9 910.2L595.9 923.5L596.8 931.2L596.9 931.8L597.9 935.4L598.5 936.2L598.9 934.5L599.9 924.8L600.5 921.1L600.9 920.1L601.9 918.1L602.8 917.7L602.9 917.7L603.9 920.3L604.9 925.9L605.2 927.8L605.9 935.2L606.9 950.2L607.2 954.8L607.9 964.8L608.9 979.7L609.6 988.5L609.9 992.4L610.9 1003.6L611.9 1011.9L611.9 1012.0L612.9 1017.3L613.6 1018.8L613.9 1018.5L614.9 1014.5L615.9 1008.0L616.3 1005.3L616.9 1001.6L617.9 994.7L618.9 986.3L619.7 978.4L619.9 975.7L620.9 959.4L621.9 940.4L622.0 937.9L622.9 922.2L623.9 903.4L624.7 887.4L624.9 884.1L625.9 863.2L626.8 847.0L626.9 844.6L627.9 830.9L628.1 827.5L628.9 808.2L629.9 781.4L630.1 776.9L630.9 763.9L631.8 753.3L631.9 752.7L632.9 746.4L633.8 743.6L633.9 743.9L634.9 747.2L635.9 753.3L635.9 753.7L636.9 766.7L637.5 776.9L637.9 782.5L638.9 799.0L639.6 810.6L639.9 817.2L640.9 838.2L641.6 851.1L641.9 855.9L642.9 870.1L642.9 870.5L643.9 893.0L644.9 919.9L645.0 921.1L645.9 946.1L646.9 970.2L647.0 971.6L647.9 990.6L648.9 1004.7L649.0 1005.3L649.9 1009.7L650.9 1012.1L651.0 1012.0L651.9 1011.3L652.9 1009.7L653.4 1008.8L653.9 1006.8L654.9 1000.7L655.7 995.2L655.9 994.2L656.9 988.6L657.9 982.4L658.4 978.4L658.9 973.1L659.9 957.1L660.9 941.1L661.7 934.0L661.9 933.1L662.9 929.7L663.9 927.5L664.9 925.7L665.1 925.7L665.9 924.8L666.9 924.7L667.9 923.6L668.9 922.7L669.4 922.2L669.9 921.0L670.9 916.6L671.9 910.1L672.8 903.7L672.9 902.9L673.9 893.8L674.9 882.9L675.2 880.1L675.9 871.1L676.9 857.8L677.9 844.3L678.5 836.3L678.9 831.6L679.9 819.3L680.9 807.4L681.9 795.8L681.9 795.7L682.9 782.7L683.9 769.5L684.9 760.3L685.3 758.7L685.9 757.5L686.9 756.5L687.9 755.2L688.6 753.6L688.9 752.7L689.9 744.7L690.9 735.8L691.0 735.2L691.9 728.7L692.9 724.0L693.0 724.1L693.9 723.2L694.9 724.1L695.9 724.1L696.1 724.1L696.9 730.1L697.7 741.9L697.9 744.9L698.9 770.6L699.8 795.9L699.9 800.1L700.9 828.5L701.9 857.4L702.1 863.2L702.9 888.0L703.9 918.2L704.5 930.6L704.9 938.1L705.9 952.3L706.5 955.9L706.9 956.6L707.9 958.6L708.9 958.2L708.9 957.4L709.9 957.4L710.9 955.3L711.9 953.2L712.2 952.6L712.9 951.1L713.9 948.9L714.9 946.2L715.6 944.2L715.9 943.1L716.9 939.8L717.9 935.6L718.9 929.4L719.0 928.9L719.9 913.5L720.6 896.9L720.9 891.0L721.9 864.7L722.9 838.6L723.3 829.5L723.9 819.1L724.9 802.6L725.9 790.3L726.0 789.1L726.9 781.4L727.9 774.5L728.7 772.5L728.9 772.3L729.9 775.3L730.9 781.6L731.4 785.7L731.9 792.3L732.9 815.9L733.5 829.5L733.9 841.1L734.9 868.4L735.8 890.2L735.9 892.3L736.9 912.5L737.9 928.0L738.2 930.6L738.9 936.8L739.5 939.1L739.9 938.8L740.9 936.5L741.9 932.2L742.9 927.3L742.9 927.1L743.9 919.9L744.9 909.5L745.9 897.0L745.9 896.9L746.9 880.8L747.9 860.3L748.9 837.9L749.3 829.5L749.9 814.9L750.9 789.5L751.9 763.5L752.7 745.3L752.9 739.3L753.9 715.4L754.9 692.6L755.9 673.1L756.0 671.2L756.9 655.5L757.9 638.7L758.9 627.9L759.4 626.5L759.9 627.5L760.9 634.9L761.9 646.6L762.8 657.7L762.9 659.7L763.9 678.2L764.9 701.3L765.9 724.0L766.1 728.5L766.9 743.8L767.9 763.3L768.9 780.7L769.5 789.1L769.9 794.2L770.9 805.6L771.9 815.2L772.9 822.8L772.9 823.1L773.9 830.5L774.9 836.4L775.6 838.0L775.9 838.2L776.9 838.5L777.9 838.2L778.9 838.9L779.6 839.1L779.9 838.7L780.9 834.2L781.9 826.6L782.0 826.2L782.9 813.7L783.9 794.2L784.7 779.0L784.9 774.0L785.9 750.7L786.9 728.9L787.4 721.7L787.9 714.3L788.9 702.6L789.7 698.8L789.9 698.8L790.9 700.0L791.9 699.5L792.4 699.8L792.9 702.1L793.9 714.5L794.8 728.5L794.9 730.8L795.9 751.9L796.9 776.5L797.5 789.1L797.9 798.7L798.9 820.3L799.8 836.3L799.9 837.5L800.9 850.7L801.5 854.8L801.9 855.8L802.9 857.6L803.9 857.4L803.9 858.2L804.9 853.2L805.9 844.2L806.6 839.7L806.9 837.9L807.9 833.0L808.9 829.4L809.6 828.9L809.9 828.8L810.9 832.1L811.9 837.5L812.3 839.7L812.9 843.7L813.9 852.4L814.9 862.5L815.0 863.2L815.9 874.1L816.9 887.3L817.7 896.9L817.9 899.7L818.9 912.5L819.9 921.6L820.0 922.2L820.9 924.7L821.9 927.3L822.7 927.3L822.9 927.9L823.9 926.2L824.9 923.3L825.8 920.6L825.9 920.1L826.9 916.6L827.9 912.5L828.9 907.7L829.9 901.8L830.1 900.3L830.9 894.1L831.9 883.4L832.9 871.0L833.5 863.2L833.9 858.0L834.9 843.1L835.9 827.3L836.9 812.7L836.9 812.4L837.9 797.5L838.9 782.8L839.9 771.5L840.3 768.9L840.9 765.8L841.9 762.5L842.6 758.8L842.9 755.4L843.9 734.1L844.6 721.7L844.9 719.3L845.9 712.0L846.7 709.9L846.9 710.0L847.9 711.5L848.9 713.7L849.4 715.0L849.9 717.5L850.9 724.5L851.9 731.2L852.0 731.7L852.9 735.7L853.9 739.2L854.4 739.6L854.9 738.6L855.9 732.1L856.9 723.3L857.1 721.7L857.9 712.6L858.8 704.9L858.9 704.4L859.9 702.5L860.9 701.3L861.1 701.5L861.9 705.6L862.9 718.3L863.2 721.7L863.9 734.1L864.9 755.4L865.5 768.9L865.9 777.3L866.9 800.7L867.9 823.3L868.2 829.5L868.9 843.2L869.9 861.2L870.6 870.0L870.9 873.3L871.9 882.6L872.9 886.8L872.9 886.9L873.9 884.5L874.9 878.6L875.6 873.3L875.9 871.1L876.9 859.3L877.9 843.3L878.9 824.6L879.0 822.8L879.9 800.9L880.9 770.8L881.9 740.7L882.4 728.5L882.9 714.8L883.9 688.9L884.9 666.7L885.7 654.3L885.9 652.6L886.9 643.6L887.9 637.5L888.4 635.8L888.9 634.9L889.9 633.3L890.9 632.5L891.1 632.2L891.9 633.5L892.9 637.6L893.5 640.9L893.9 645.1L894.9 665.1L895.8 688.0L895.9 689.5L896.9 715.8L897.9 744.6L898.5 762.2L898.9 772.4L899.9 801.8L900.9 822.8L900.9 822.9L901.9 833.6L902.9 840.9L903.3 843.0L903.9 846.9L904.9 850.4L904.9 850.4L905.9 842.2L906.9 829.9L907.0 829.5L907.9 824.4L908.9 820.2L909.9 816.4L910.0 816.1L910.9 812.6L911.9 808.8L912.7 806.0L912.9 805.2L913.9 801.8L914.9 798.1L915.4 795.8L915.9 792.0L916.9 781.7L917.7 775.6L917.9 775.2L918.9 772.1L919.9 770.2L920.1 770.6L920.9 773.6L921.9 778.7L922.1 778.9L922.9 771.1L923.5 766.2L923.9 766.9L924.9 772.3L925.9 778.1L926.2 779.0L926.9 780.5L927.9 782.2L928.9 784.1L928.9 784.1L929.9 789.7L930.6 795.8L930.9 802.7L931.9 836.7L932.2 846.4L932.9 862.9L933.9 884.6L934.6 896.9L934.9 902.0L935.9 917.1L936.9 927.0L937.0 927.2L937.9 932.0L938.9 935.6L939.6 936.3L939.9 936.5L940.9 935.2L941.9 933.5L942.9 930.9L943.0 930.6L943.9 927.8L944.9 923.5L945.7 920.5L945.9 919.8L946.9 915.7L947.9 913.0L948.1 913.1L948.9 915.3L949.9 919.6L950.4 920.3L950.9 919.3L951.9 913.6L952.5 912.1L952.9 912.5L953.9 912.1L954.9 913.5L955.8 912.1L955.9 912.0L956.9 917.3L957.9 925.5L958.2 927.3L958.9 931.4L959.9 936.7L960.9 941.5L961.5 944.1L961.9 945.3L962.9 948.4L963.9 951.1L964.9 954.2L964.9 954.2L965.9 959.0L966.9 963.9L967.6 965.3L967.9 964.9L968.9 960.8L969.9 956.9L970.0 956.9L970.9 955.3L971.9 955.7L972.9 954.9L973.3 954.9L973.9 954.9L974.9 953.0L975.9 951.2L976.7 950.8L976.9 951.3L977.9 950.0L978.9 951.0L979.9 949.2L980.1 949.2L980.9 955.1L981.8 964.3L981.9 965.3L982.9 971.9L983.9 977.0L984.1 977.9L984.9 979.9L985.1 980.4L985.9 982.4L986.9 984.4L987.5 985.5L987.9 986.1L988.9 986.7L989.9 988.9L990.2 987.2L990.9 986.6L991.9 985.6L992.9 983.8L993.6 982.1L993.9 981.0L994.9 975.5L995.9 967.0L995.9 967.0L996.9 950.3L996.9 950.1L997.9 937.4L997.9 937.4L998.9 939.9L999.9 943.6L1000.3 944.2L1000.9 941.0L1001.9 927.9L1002.9 914.5L1003.0 913.8L1003.9 906.7L1004.9 900.2L1005.9 893.6L1006.4 890.2L1006.9 885.7L1007.9 877.2L1008.9 868.0L1009.9 858.2L1010.4 853.1L1010.9 847.7L1011.9 835.9L1012.9 823.5L1013.8 812.7L1013.9 811.0L1014.9 797.5L1015.9 783.8L1016.9 771.4L1017.1 768.9L1017.9 760.5L1018.9 750.4L1019.8 745.3L1019.9 745.4L1020.9 743.7L1021.2 743.5L1021.9 745.7L1022.9 752.8L1023.2 755.4L1023.9 764.2L1024.9 782.8L1025.6 795.9L1025.9 802.6L1026.9 824.1L1027.9 846.1L1027.9 846.4L1028.9 867.5L1029.9 888.9L1030.6 903.7L1030.9 909.8L1031.9 931.5L1032.9 951.1L1033.3 957.6L1033.9 965.3L1034.7 973.7L1034.9 976.4L1035.9 987.4L1036.9 997.1L1037.4 1000.6L1037.9 1004.6L1038.9 1011.0L1039.9 1015.5L1040.1 1015.8L1040.9 1017.8L1041.9 1019.6L1042.4 1020.1L1042.9 1019.6L1043.9 1018.5L1044.9 1016.0L1045.8 1014.0L1045.9 1013.9L1046.9 1011.3L1047.9 1008.6L1048.9 1006.1L1049.2 1005.7L1049.9 1004.2L1050.9 1003.3L1051.9 1002.4L1052.5 1000.6L1052.9 999.5L1053.9 995.1L1054.9 990.6L1054.9 990.4L1055.9 986.8L1056.9 983.1L1057.6 980.4L1057.9 978.9L1058.9 973.4L1059.9 968.3L1060.3 967.0L1060.9 964.8L1061.9 961.7L1062.9 959.1L1063.9 958.1L1064.3 957.6L1064.9 957.7L1065.9 959.9L1066.9 962.0L1067.7 962.6L1067.9 962.5L1068.9 958.8L1069.9 953.9L1070.4 952.5L1070.9 951.6L1071.9 950.3L1072.9 949.6L1073.9 948.2L1074.4 947.7L1074.9 946.7L1075.9 945.1L1076.9 943.1L1077.8 940.7L1077.9 940.3L1078.9 934.8L1079.9 927.0L1080.9 919.0L1081.2 917.1L1081.9 911.9L1082.9 904.9L1083.9 897.8L1084.5 893.6L1084.9 890.6L1085.9 882.0L1086.9 875.8L1087.2 875.0L1087.9 874.7L1088.9 873.8L1089.9 872.7L1090.6 873.3L1090.9 873.9L1091.9 875.3L1092.9 877.2L1093.0 876.7L1093.9 871.9L1094.9 862.7L1095.3 859.9L1095.9 856.2L1096.9 851.1L1097.3 850.4L1097.9 851.1L1098.9 850.7L1099.9 850.9L1100.7 851.4L1100.9 851.8L1101.9 856.0L1102.9 862.4L1103.1 863.2L1103.9 868.5L1104.9 875.8L1105.4 880.1L1105.9 885.3L1106.9 898.9L1107.9 911.7L1108.1 913.8L1108.9 921.1L1109.9 929.1L1110.8 934.0L1110.9 934.5L1111.9 936.9L1112.9 939.1L1113.5 940.7L1113.9 942.8L1114.9 950.4L1115.5 954.1L1115.9 955.7L1116.9 959.0L1117.9 961.6L1118.2 962.6L1118.9 964.9L1119.9 968.3L1120.6 971.1L1120.9 972.8L1121.6 977.1L1121.9 978.8L1122.9 984.8L1123.9 989.9L1124.9 992.2L1125.0 992.6L1125.9 992.2L1126.9 992.0L1127.3 992.2L1127.9 990.6L1128.9 984.8L1129.3 983.4L1129.9 984.5L1130.9 987.9L1131.7 990.5L1131.9 991.2L1132.9 994.4L1133.9 997.6L1134.9 1000.3L1135.1 1000.4L1135.9 1002.5L1136.9 1004.3L1137.9 1006.5L1138.9 1008.4L1139.1 1007.4L1139.9 1004.2L1140.9 997.9L1141.1 997.2L1141.9 996.2L1142.9 995.3L1143.9 994.7L1144.5 993.7L1144.9 993.1L1145.9 989.5L1146.9 983.8L1146.9 983.3L1147.9 962.8L1148.2 960.2L1148.9 966.0L1149.6 971.1L1149.9 952.0L1150.1 944.2L1150.9 945.6L1151.9 947.5L1151.9 947.5L1152.9 924.7L1153.5 910.5L1153.9 904.8L1154.9 893.8L1155.9 885.5L1156.8 880.2L1156.9 879.8L1157.9 875.6L1158.9 872.0L1159.9 870.2L1160.2 869.8L1160.9 870.1L1161.9 870.7L1162.9 870.1L1163.9 873.8L1164.9 881.1L1165.3 883.6L1165.9 887.7L1166.9 894.5L1167.6 900.4L1167.9 903.2L1168.9 915.0L1169.9 928.5L1170.3 934.1L1170.9 942.4L1171.9 957.3L1172.7 967.8L1172.9 970.8L1173.9 984.0L1174.7 989.7L1174.9 990.3L1175.9 991.7L1176.9 992.4L1177.1 992.4L1177.9 993.0L1178.9 992.1L1179.9 991.7L1180.9 991.5L1181.9 992.0L1182.1 991.4L1182.9 991.8L1183.9 992.4L1184.9 993.3L1185.9 994.2L1186.9 994.4L1187.2 994.8L1187.9 994.2L1188.9 992.6L1189.9 990.8L1190.5 989.7L1190.9 988.1L1191.9 988.6L1192.9 988.6L1193.9 987.1L1194.6 985.5L1194.9 985.9L1195.9 983.9L1196.9 981.2L1197.9 978.0L1198.0 977.9L1198.9 974.2L1199.9 969.1L1200.6 964.5L1200.9 962.4L1201.9 951.7L1202.9 939.2L1203.3 934.1L1203.9 927.6L1204.9 915.9L1205.9 904.8L1206.7 897.1L1206.9 895.3L1207.9 885.7L1208.9 877.8L1209.7 874.8L1209.9 875.3L1210.9 879.3L1211.8 881.9L1211.9 881.8L1212.9 877.1L1213.9 871.0L1214.5 869.4L1214.9 870.5L1215.9 878.1L1216.8 887.0L1216.9 887.8L1217.9 899.6L1218.9 911.5L1219.2 913.9L1219.9 919.1L1220.9 924.7L1221.9 930.1L1222.5 934.1L1222.9 936.8L1223.9 944.9L1224.9 953.5L1225.9 961.0L1225.9 961.1L1226.9 966.9L1227.9 972.3L1228.3 974.5L1228.9 979.5L1229.9 988.5L1230.9 994.6L1231.0 994.9L1231.9 996.6L1232.9 997.7L1233.9 999.0L1234.3 999.7L1234.9 1001.2L1235.9 1004.5L1236.9 1008.4L1237.7 1011.7L1237.9 1012.5L1238.9 1017.8L1239.4 1019.0L1239.9 1018.1L1240.9 1014.0L1241.8 1011.4L1241.9 1011.5L1242.9 1010.0L1243.9 1010.8L1244.9 1011.7L1245.9 1010.1L1246.1 1009.9L1246.9 1007.7L1247.9 1001.9L1248.9 996.4L1249.5 994.8L1249.9 994.3L1250.9 992.8L1251.9 992.4L1252.9 990.8L1253.9 991.5L1254.6 992.5L1254.9 991.5L1255.9 992.8L1256.9 993.5L1257.9 994.0L1258.6 994.8L1258.9 994.6L1259.9 991.2L1260.9 986.5L1261.9 983.1L1262.0 983.1L1262.9 981.8L1263.9 981.1L1264.9 980.0L1265.9 978.6L1266.3 979.6L1266.9 979.5L1267.9 980.0L1268.9 979.2L1269.9 981.3L1270.7 982.5L1270.9 982.1L1271.9 983.7L1272.9 985.6L1273.8 987.5L1273.9 986.2L1274.9 982.4L1275.8 979.6L1275.9 979.8L1276.9 978.9L1277.9 977.2L1278.9 978.3L1279.8 977.6L1279.9 977.9L1280.9 977.7L1281.9 976.7L1282.9 976.1L1283.9 974.9L1284.2 974.5L1284.9 973.3L1285.9 970.2L1286.9 967.6L1287.6 966.4L1287.9 965.6L1288.9 964.1L1289.9 962.3L1290.9 961.7L1291.9 960.5L1292.3 961.4L1292.9 960.7L1293.9 962.2L1294.9 964.5L1295.7 966.2L1295.9 966.7L1296.9 969.3L1297.9 971.4L1298.9 974.1L1299.9 977.5L1300.0 977.9L1300.9 981.7L1301.9 987.1L1302.9 992.5L1303.4 994.8L1303.9 996.9L1304.9 1001.1L1305.9 1004.7L1306.8 1006.4L1306.9 1006.7L1307.9 1007.7L1308.9 1009.1L1309.9 1008.9L1310.9 1010.4L1311.8 1008.3L1311.9 1010.6L1312.9 1008.4L1313.9 1009.6L1314.9 1008.3L1315.2 1008.2L1315.9 1006.5L1316.9 1002.6L1317.9 999.1L1318.6 998.1L1318.9 997.4L1319.9 998.1L1320.9 998.4L1321.9 998.1L1321.9 998.6L1322.9 996.7L1323.9 993.1L1324.9 989.4L1325.3 987.9L1325.9 986.0L1326.9 982.3L1327.9 979.1L1328.7 978.6L1328.9 977.8L1329.9 976.5L1330.9 977.0L1331.9 975.3L1332.0 976.9L1332.9 978.1L1333.9 981.5L1334.7 984.6L1334.9 985.3L1335.9 990.1L1336.9 995.6L1337.9 1000.6L1338.1 1001.5L1338.9 1004.7L1339.9 1008.4L1340.9 1011.7L1341.5 1013.3L1341.9 1014.2L1342.9 1016.9L1343.9 1018.7L1344.9 1020.9L1345.5 1021.9L1345.9 1022.2L1346.9 1023.7L1347.9 1024.6L1348.9 1024.9L1349.9 1026.0L1350.6 1027.6L1350.9 1026.1L1351.9 1026.9L1352.9 1025.8L1353.9 1025.8L1354.9 1024.9L1355.9 1024.8L1356.9 1023.7L1357.3 1023.5L1357.9 1022.6L1358.9 1020.2L1359.9 1017.0L1360.7 1015.1L1360.9 1014.5L1361.9 1012.4L1362.9 1010.5L1363.9 1008.2L1364.9 1006.8L1365.1 1006.5L1365.9 1004.9L1366.9 1002.5L1367.9 1000.8L1368.9 999.1L1369.1 999.8L1369.9 1000.6L1370.9 1001.7L1371.9 1002.0L1372.5 1003.2L1372.9 1003.9L1373.9 1002.8L1374.9 1001.7L1375.9 1001.1L1376.9 999.6L1376.9 999.7L1377.9 995.1L1378.9 989.1L1379.2 988.2L1379.9 986.5L1380.9 985.3L1381.9 983.6L1382.9 982.0L1383.3 981.3L1383.9 979.3L1384.9 974.8L1385.9 970.7L1386.9 968.5L1387.0 968.3L1387.9 971.6L1388.9 976.9L1389.3 977.9L1389.9 979.0L1390.9 978.7L1391.9 979.3L1392.9 979.3L1393.4 979.5L1393.9 980.8L1394.9 985.5L1395.9 989.4L1396.1 989.8L1396.9 990.8L1397.9 991.9L1398.9 992.4L1399.4 993.6L1399.9 994.1L1400.9 997.7L1401.9 1001.8L1402.8 1005.1L1402.9 1005.2L1403.9 1008.0L1404.9 1010.2L1405.5 1010.5L1405.9 1009.8L1406.9 1004.0L1407.9 999.8L1407.9 1000.0L1408.9 999.2L1409.9 999.4L1410.9 998.4L1411.2 998.2L1411.9 995.5L1412.9 988.8L1413.6 986.3L1413.9 985.6L1414.9 985.7L1415.9 985.2L1416.9 985.2L1417.9 984.9L1418.0 984.7L1418.9 980.6L1419.6 977.9L1419.9 976.1L1420.9 978.2L1421.9 978.6L1422.9 979.5L1423.9 980.2L1424.7 981.3L1424.9 981.6L1425.9 985.1L1426.9 988.0L1427.1 988.0L1427.9 987.2L1428.9 987.2L1429.9 985.6L1430.9 985.3L1431.4 984.9L1431.9 983.9L1432.9 981.6L1433.9 978.9L1434.8 977.7L1434.9 977.9L1435.9 977.8L1436.9 977.9L1437.9 977.2L1438.9 977.9L1439.2 977.8L1439.9 979.9L1440.9 986.2L1441.5 989.7L1441.9 991.2L1442.9 995.0L1443.9 998.3L1444.9 1001.5L1444.9 1001.4L1445.9 1004.5L1446.9 1007.7L1447.9 1009.5L1448.3 1010.1L1448.9 1010.3L1449.9 1010.9L1450.9 1011.1L1451.7 1011.6L1451.9 1012.2L1452.9 1018.1L1453.9 1023.3L1454.0 1023.5L1454.9 1024.0L1455.9 1023.4L1456.9 1024.9L1457.9 1024.8L1458.4 1025.1L1458.9 1024.5L1459.9 1024.5L1460.9 1023.7L1461.9 1022.4L1462.4 1021.7L1462.9 1020.8L1463.9 1017.3L1464.9 1013.9L1465.8 1011.8L1465.9 1011.5L1466.9 1010.4L1467.9 1009.5L1468.9 1007.7L1469.2 1008.2L1469.9 1007.4L1470.9 1005.1L1471.9 1003.6L1472.5 1003.2L1472.9 1003.7L1473.9 1003.8L1474.9 1004.5L1475.9 1004.9L1475.9 1004.9L1476.9 999.9L1477.9 994.7L1477.9 994.8L1478.9 996.0L1479.9 999.6L1480.9 1003.1L1481.9 1004.9L1482.0 1005.0L1482.9 1004.4L1483.9 1003.3L1484.9 1002.1L1485.9 1002.1L1486.0 1001.5L1486.9 1003.6L1487.9 1008.1L1488.7 1009.0L1488.9 1009.8L1489.9 1007.5L1490.9 1005.0L1491.1 1004.0L1491.9 1005.4L1492.9 1006.2L1493.9 1008.5L1494.9 1009.5L1495.5 1009.9L1495.9 1008.5L1496.9 1009.5L1497.9 1009.1L1498.8 1008.2L1498.9 1007.7L1499.9 1007.2L1500.9 1006.4L1501.9 1003.9L1502.2 1003.2L1502.9 999.8L1503.9 993.2L1504.6 991.4L1504.9 990.8L1505.9 991.8L1506.9 990.4L1507.9 992.9L1508.9 992.4L1508.9 993.1L1509.9 990.3L1510.9 984.6L1511.9 980.1L1512.3 979.6L1512.9 979.2L1513.9 982.0L1514.9 984.0L1515.7 984.7L1515.9 984.6L1516.9 980.7L1517.9 975.1L1518.0 974.6L1518.9 971.0L1519.9 966.6L1520.7 961.1L1520.9 959.2L1521.9 940.2L1522.4 927.4L1522.9 909.9L1523.8 876.8L1523.9 873.0L1524.4 860.0L1524.9 834.9L1525.9 737.6L1526.2 700.0L1526.9 537.4L1527.0 520.0L1527.9 385.0L1528.2 350.0L1528.9 271.9L1529.4 230.0L1529.9 193.3L1530.2 182.8L1530.9 223.8L1531.0 230.0L1531.9 301.5L1532.5 350.0L1532.9 380.8L1533.9 452.5L1534.8 520.0L1534.9 529.1L1535.9 615.4L1536.8 700.0L1536.9 711.6L1537.9 830.7L1538.2 860.0L1538.9 894.5L1539.3 910.5L1539.9 946.8L1540.3 961.1L1540.9 975.1L1541.9 987.7L1542.0 988.0L1542.9 993.4L1543.9 997.3L1544.9 1000.2L1545.9 1002.7L1546.0 1003.2L1546.9 1006.0L1547.9 1008.4L1548.9 1010.8L1549.4 1011.6L1549.9 1012.9L1550.9 1014.7L1551.9 1016.5L1552.7 1016.7L1552.9 1018.2L1553.9 1016.5L1554.9 1017.5L1555.9 1015.8L1556.9 1016.5L1557.1 1015.7L1557.9 1016.5L1558.9 1019.1L1559.5 1020.3L1559.9 1020.5L1560.9 1020.9L1561.9 1021.8L1562.9 1021.7L1563.9 1023.0L1564.5 1023.7L1564.9 1023.7L1565.9 1025.0L1566.9 1026.1L1567.9 1027.8L1568.9 1027.5L1568.9 1027.1L1569.9 1024.7L1570.9 1020.7L1571.3 1020.0L1571.9 1020.4L1572.9 1019.5L1573.9 1019.5L1574.9 1019.2L1575.9 1020.6L1576.9 1019.0L1577.3 1018.9L1577.9 1021.3L1578.9 1027.4L1579.0 1027.5L1579.9 1026.1L1580.9 1022.6L1581.9 1018.8L1582.0 1018.4L1582.9 1015.0L1583.9 1010.7L1584.9 1007.7L1585.4 1007.2L1585.9 1007.9L1586.9 1007.2L1587.9 1007.4L1588.8 1007.2L1588.9 1007.5L1589.9 1006.4L1590.9 1004.7L1591.9 1004.3L1592.2 1005.2L1592.9 1005.0L1593.9 1007.4L1594.9 1009.9L1594.9 1010.1L1595.9 1012.2L1596.9 1014.7L1597.9 1016.5L1598.9 1017.5L1599.3 1017.7L1599.9 1018.4L1600.9 1017.3L1601.9 1017.1L1602.9 1016.4L1603.9 1017.5L1604.9 1015.7L1605.0 1016.2L1605.9 1015.5L1606.9 1015.9L1607.9 1015.3L1608.9 1014.4L1609.9 1015.0L1610.1 1015.4L1610.9 1014.5L1611.9 1013.8L1612.9 1011.8L1613.9 1010.3L1614.9 1008.5L1615.1 1008.0L1615.9 1007.1L1616.9 1005.3L1617.9 1003.9L1618.5 1003.1L1618.9 1002.7L1619.9 1001.6L1620.9 1000.6L1621.9 999.0L1622.9 998.8L1623.5 999.0L1623.9 997.7L1624.9 996.5L1625.9 995.2L1626.9 994.1L1627.9 993.3L1628.6 992.7L1628.9 993.1L1629.9 993.1L1630.9 993.1L1631.9 995.1L1632.9 993.1L1633.9 992.2L1634.9 993.1L1635.3 992.8L1635.9 993.6L1636.9 996.1L1637.9 999.5L1638.7 1001.4L1638.9 1001.9L1639.9 1004.0L1640.9 1004.8L1641.9 1005.8L1642.9 1007.2L1643.8 1008.1L1643.9 1008.5L1644.9 1009.4L1645.9 1011.6L1646.9 1012.7L1647.8 1013.3L1647.9 1013.4L1648.9 1012.3L1649.9 1010.3L1650.9 1008.3L1651.9 1006.6L1652.2 1006.6L1652.9 1006.8L1653.9 1005.7L1654.9 1005.8L1655.9 1005.0L1656.9 1004.8L1657.2 1004.9L1657.9 1004.1L1658.9 1004.9L1659.9 1003.4L1660.9 1004.9L1661.9 1006.6L1662.3 1004.9L1662.9 1003.4L1663.9 1004.6L1664.9 1004.8L1665.9 1003.8L1666.9 1003.0L1667.9 1002.4L1668.9 1001.3L1669.0 1001.5L1669.9 1000.1L1670.9 997.2L1671.9 994.9L1672.4 994.8L1672.9 996.1L1673.9 995.0L1674.9 994.6L1675.9 995.9L1676.8 996.8L1676.9 996.5L1677.9 998.0L1678.9 999.3L1679.9 1001.0L1680.8 1003.2L1680.9 1003.6L1681.9 1006.4L1682.9 1010.0L1683.9 1012.8L1684.2 1012.8L1684.9 1014.4L1685.9 1016.4L1686.9 1017.0L1687.9 1019.1L1688.9 1018.3L1689.2 1018.1L1689.9 1018.3L1690.9 1017.9L1691.9 1017.7L1692.9 1017.6L1693.9 1016.8L1694.3 1015.2L1694.9 1016.4L1695.9 1015.9L1696.9 1015.1L1697.9 1015.1L1698.9 1013.6L1699.3 1013.0L1699.9 1012.9L1700.9 1012.7L1701.9 1011.2L1702.9 1011.2L1703.9 1009.0L1704.4 1007.9L1704.9 1007.2L1705.9 1003.9L1706.9 1000.6L1707.8 998.1L1707.9 997.8L1708.9 995.7L1709.9 993.3L1710.9 991.6L1711.9 990.1L1712.8 988.8L1712.9 989.7L1713.9 991.2L1714.9 994.3L1715.9 996.1L1716.2 996.5L1716.9 996.5L1717.9 994.2L1718.9 991.7L1719.9 990.1L1720.6 989.3L1720.9 989.7L1721.9 990.7L1722.9 991.3L1723.9 993.0L1723.9 993.1L1724.9 1002.7L1725.3 1004.9L1725.9 1005.9L1726.9 1004.9L1727.9 1005.2L1728.9 1004.9L1729.7 1004.2L1729.9 1004.9L1730.9 1005.5L1731.9 1007.0L1732.9 1008.8L1733.9 1009.8L1734.1 1009.8L1734.9 1010.7L1735.9 1011.6L1736.9 1012.2L1737.9 1013.6L1738.1 1013.3L1738.9 1014.7L1739.9 1016.4L1740.9 1017.9L1741.9 1020.1L1742.9 1020.6L1743.1 1021.1L1743.9 1019.6L1744.9 1015.1L1745.9 1010.9L1746.5 1009.9L1746.9 1010.7L1747.9 1009.9L1748.9 1011.1L1749.9 1009.9L1749.9 1009.6L1750.9 1010.5L1751.9 1011.4L1752.9 1013.4L1753.9 1014.9L1754.9 1015.6L1754.9 1015.2L1755.9 1016.0L1756.9 1017.9L1757.9 1016.5L1758.9 1017.0L1759.9 1016.7L1760.0 1016.8L1760.9 1016.7L1761.9 1017.7L1762.9 1016.7L1763.9 1016.1L1764.4 1016.7L1764.9 1016.4L1765.9 1016.0L1766.9 1015.0L1767.9 1013.9L1768.4 1013.5L1768.9 1012.6L1769.9 1010.7L1770.9 1007.8L1771.8 1004.9L1771.9 1004.4L1772.9 1000.1L1773.9 993.4L1774.5 988.0L1774.9 981.0L1775.9 952.3L1776.2 944.2L1776.9 918.4L1777.5 893.7L1777.9 875.2L1778.2 860.0L1778.9 805.8L1779.0 800.0L1779.9 752.2L1780.2 740.0L1780.9 713.9L1781.4 700.0L1781.9 687.5L1782.2 684.5L1782.9 694.0L1783.2 700.0L1783.9 718.6L1784.6 740.0L1784.9 749.3L1785.9 780.0L1786.5 800.0L1786.9 816.0L1787.9 858.1L1788.0 860.0L1788.9 896.6L1789.3 910.5L1789.9 930.3L1790.9 959.1L1791.0 961.1L1791.9 982.2L1792.7 994.8L1792.9 997.3L1793.9 1006.5L1794.9 1012.9L1795.4 1014.9L1795.9 1017.0L1796.9 1020.3L1797.9 1022.4L1798.7 1023.2L1798.9 1023.5L1799.9 1023.7L1800.9 1024.3L1801.9 1025.2L1802.9 1024.8L1803.8 1024.5L1803.9 1025.1L1804.9 1025.5L1805.9 1025.7L1806.9 1026.2L1807.9 1026.4L1808.8 1027.4L1808.9 1026.8L1809.9 1027.2L1810.9 1028.5L1811.9 1030.2L1812.9 1030.8L1813.9 1032.0L1813.9 1031.8L1814.9 1033.8L1815.9 1033.3L1816.9 1034.2L1817.9 1034.9L1818.3 1035.0L1818.9 1036.0L1819.9 1037.4L1820.9 1039.1L1821.9 1039.5L1822.3 1040.3L1822.9 1040.0L1823.9 1038.6L1824.9 1036.5L1825.9 1034.3L1826.9 1032.6L1827.4 1031.8L1827.9 1031.4L1828.9 1030.6L1829.9 1029.4L1830.9 1029.4L1831.9 1029.6L1832.4 1028.5L1832.9 1027.9L1833.9 1027.3L1834.9 1026.6L1835.9 1025.6L1836.9 1026.5L1837.5 1025.1L1837.9 1026.1L1838.9 1026.1L1839.9 1026.9L1840.9 1027.8L1840.9 1027.7L1841.9 1027.3L1842.9 1026.8L1843.9 1024.8L1844.9 1023.9L1845.9 1022.4L1846.9 1022.0L1847.9 1020.9L1848.9 1021.0L1849.9 1020.0L1850.0 1017.9L1850.9 1020.2L1851.9 1020.5L1852.9 1021.4L1853.9 1021.1L1854.9 1022.8L1855.9 1022.9L1856.0 1023.4L1856.9 1023.4L1857.9 1024.0L1858.9 1024.7L1859.9 1024.6L1860.9 1026.0L1861.1 1025.1L1861.9 1026.1L1862.9 1026.5L1863.9 1027.7L1864.9 1028.8L1865.9 1029.8L1866.1 1030.1L1866.9 1031.6L1867.9 1032.2L1868.9 1033.5L1869.9 1034.5L1870.9 1034.8L1871.2 1035.9L1871.9 1036.6L1872.9 1037.6L1873.9 1038.8L1874.9 1039.4L1875.9 1039.4L1876.2 1040.3L1876.9 1040.7L1877.9 1041.0L1878.9 1042.8L1879.9 1041.8L1880.9 1041.6L1881.3 1041.9L1881.9 1041.7L1882.9 1041.2L1883.9 1040.2L1884.9 1039.1L1885.9 1037.5L1886.9 1037.3L1887.9 1036.4L1888.0 1036.9L1888.9 1036.4L1889.9 1037.9L1890.9 1038.7L1891.9 1039.8L1892.9 1039.5L1893.1 1040.3L1893.9 1040.6L1894.9 1039.3L1895.9 1038.2L1896.9 1037.4L1897.9 1037.6L1898.1 1036.9L1898.9 1035.8L1899.9 1037.4L1900.9 1037.8L1901.9 1038.3L1902.9 1039.0L1903.2 1038.6L1903.9 1039.1L1904.9 1038.2L1905.9 1037.2L1906.9 1037.4L1907.9 1036.8L1908.2 1036.9L1908.9 1036.7L1909.9 1036.4L1910.9 1035.8L1911.9 1035.9L1912.9 1035.0L1913.3 1035.2L1913.9 1034.5L1914.9 1032.0L1915.9 1029.2L1916.7 1028.5L1916.9 1027.0L1917.9 1027.9L1918.9 1027.0L1919.9 1027.2L1920.9 1027.2L1921.9 1026.9L1922.9 1024.4L1923.4 1026.8L1923.9 1028.1L1924.9 1026.8L1925.9 1026.9L1926.9 1027.0L1927.9 1027.7L1928.9 1027.3L1929.9 1026.5L1930.1 1027.5L1930.9 1027.4L1931.9 1027.7L1932.9 1029.5L1933.9 1028.1L1934.9 1029.8L1935.2 1028.5L1935.9 1029.4L1936.9 1031.5L1937.9 1033.9L1938.6 1035.2L1938.9 1035.6L1939.9 1036.9L1940.9 1038.7L1941.9 1039.1L1942.9 1039.4L1943.6 1040.3L1943.9 1039.6L1944.9 1040.8L1945.9 1041.0L1946.9 1041.4L1947.9 1042.5L1948.7 1041.9L1948.9 1041.0L1949.9 1042.4L1950.9 1043.1L1951.9 1043.3L1952.9 1043.8L1953.7 1043.6L1953.9 1043.7L1954.9 1043.6L1955.9 1043.4L1956.9 1043.6L1957.9 1044.5L1958.8 1043.6L1958.9 1044.1L1959.9 1043.4L1960.9 1041.6L1961.9 1042.5L1962.9 1043.5L1963.8 1041.9L1963.9 1042.3L1964.9 1042.3L1965.9 1043.1L1966.9 1043.8L1967.9 1044.4L1968.9 1045.3L1968.9 1045.0L1969.9 1045.7L1970.9 1043.7L1971.9 1046.4L1972.9 1046.4L1973.9 1047.0L1973.9 1047.4L1974.9 1047.4L1975.9 1048.3L1976.9 1048.2L1977.9 1047.8L1978.9 1048.7L1979.0 1046.2L1979.9 1048.6L1980.9 1047.2L1981.9 1048.3L1982.9 1047.7L1983.9 1048.0L1984.1 1049.2L1984.9 1048.1L1985.9 1047.1L1986.9 1049.1L1987.9 1049.7L1988.9 1050.3L1989.1 1050.8L1989.9 1050.7L1990.9 1051.4L1991.9 1051.3L1992.9 1051.4L1993.9 1051.9L1994.2 1049.9L1994.9 1052.5L1995.9 1053.6L1996.9 1054.2L1997.9 1055.0L1998.9 1055.4L1999.2 1055.8L1999.9 1055.2L2000.9 1053.8L2001.9 1053.6L2002.9 1052.3L2003.9 1052.1L2004.3 1053.5L2004.9 1052.1L2005.9 1052.3L2006.9 1052.9L2007.9 1053.3L2008.9 1053.7L2009.3 1052.9L2009.9 1053.7L2010.9 1054.2L2011.9 1052.6L2012.9 1050.7L2013.9 1051.2L2014.9 1050.1L2015.9 1050.4L2016.1 1050.7L2016.9 1050.5L2017.9 1050.8L2018.9 1051.4L2019.9 1052.7L2020.9 1052.6L2021.1 1053.0L2021.9 1053.1L2022.9 1054.7L2023.9 1054.1L2024.5 1054.2" fill="none" stroke="#ff0000" stroke-width="3.0" stroke-linejoin="round" stroke-linecap="butt" shape-rendering="crispEdges"/>
<text transform="translate(374.08 1458.80) scale(1 0.9800)" font-size="56.50">10</text>
<text transform="translate(777.71 1458.80) scale(1 0.9800)" font-size="56.50">20</text>
<text transform="translate(1183.40 1458.80) scale(1 0.9800)" font-size="56.50">30</text>
<text transform="translate(1588.83 1458.80) scale(1 0.9800)" font-size="56.50">40</text>
<text transform="translate(1993.55 1458.80) scale(1 0.9800)" font-size="56.50">50</text>
<text transform="translate(914.57 1567.80) scale(1 1.0000)" font-size="70.19">2 theta (deg)</text>
<text transform="translate(111.90 947.31) rotate(-90) scale(1 1.0590)" font-size="68.39">Intensity (cps)</text>
<rect x="785.5" y="111.5" width="549" height="225" fill="#fff" stroke="#000" stroke-width="3" shape-rendering="crispEdges"/>
<rect x="800" y="148" width="142" height="3" fill="#000" shape-rendering="crispEdges"/>
<text transform="translate(959.69 171.00) scale(1 1.0180)" font-size="63.55">Fe-BTC</text>
<rect x="800" y="224" width="142" height="3" fill="#ff0000" shape-rendering="crispEdges"/>
<text transform="translate(959.70 246.80) scale(1 1.0180)" font-size="63.45">Paclitaxel</text>
<rect x="800" y="300" width="142" height="3" fill="#0000ff" shape-rendering="crispEdges"/>
<text transform="translate(959.71 322.90) scale(1 1.0180)" font-size="63.26">Fe-BTC-PTX</text>
<text class="serif" font-size="86.0" y="1770.6"><tspan x="1024.32">(</tspan><tspan x="1050.17" font-weight="bold">a</tspan><tspan x="1090.14">)</tspan></text>
</g>
<g id="chart-b">
<path d="M357.3 2563.3L357.6 2617.9L358.0 2661.7L359.0 2672.5L360.6 2658.4L363.3 2634.8L366.7 2614.6L370.8 2602.8L374.8 2596.0L379.2 2593.0L387.6 2592.3L397.7 2593.0L434.8 2597.7L435.8 2597.8L436.8 2598.0L437.8 2598.1L438.8 2598.2L439.8 2598.4L440.8 2598.5L441.8 2598.6L442.8 2598.7L443.8 2598.9L444.8 2599.0L445.8 2599.1L446.8 2599.3L447.8 2599.4L448.8 2599.5L449.8 2599.7L450.8 2599.8L451.8 2599.9L452.8 2600.0L453.8 2600.2L454.8 2600.3L455.8 2600.4L456.8 2600.6L457.8 2600.7L458.8 2600.8L459.8 2601.0L460.8 2601.1L461.8 2601.2L462.8 2601.3L463.8 2601.5L464.8 2601.6L465.8 2601.7L466.8 2601.9L467.8 2602.0L468.8 2602.1L469.8 2602.3L470.8 2602.4L471.8 2602.5L472.8 2602.6L473.8 2602.8L474.8 2602.9L475.8 2603.0L476.8 2603.2L477.8 2603.3L478.8 2603.4L479.8 2603.6L480.8 2603.7L481.8 2603.8L482.8 2603.9L483.8 2604.1L484.8 2604.2L485.8 2604.3L486.8 2604.5L487.8 2604.6L488.8 2604.7L489.8 2604.9L490.8 2605.0L491.8 2605.1L492.8 2605.2L493.8 2605.4L494.8 2605.5L495.8 2605.6L496.8 2605.8L497.8 2605.9L498.8 2606.0L499.8 2606.2L500.8 2606.3L501.8 2606.4L502.2 2606.5L502.8 2606.5L503.8 2606.7L504.8 2606.8L505.8 2606.9L506.8 2607.1L507.8 2607.2L508.8 2607.3L509.8 2607.5L510.8 2607.6L511.8 2607.7L512.8 2607.9L513.8 2608.0L514.8 2608.1L515.8 2608.3L516.8 2608.4L517.8 2608.5L518.8 2608.7L519.8 2608.8L520.8 2608.9L521.8 2609.1L522.8 2609.2L523.8 2609.4L524.8 2609.5L525.8 2609.6L526.8 2609.8L527.8 2609.9L528.8 2610.0L529.8 2610.2L530.8 2610.3L531.8 2610.4L532.8 2610.6L533.8 2610.7L534.8 2610.8L535.8 2611.0L536.8 2611.1L537.8 2611.2L538.8 2611.4L539.8 2611.5L540.8 2611.6L541.8 2611.8L542.8 2611.9L543.8 2612.0L544.8 2612.2L545.8 2612.3L546.8 2612.4L547.8 2612.6L548.8 2612.7L549.8 2612.8L550.8 2612.9L551.8 2613.1L552.8 2613.2L553.8 2613.3L554.8 2613.5L555.8 2613.6L556.8 2613.7L557.8 2613.8L558.8 2614.0L559.8 2614.1L560.8 2614.2L561.8 2614.3L562.8 2614.4L563.8 2614.6L564.8 2614.7L565.8 2614.8L566.8 2614.9L567.8 2615.0L568.8 2615.1L569.5 2615.2L569.8 2615.3L570.8 2615.4L571.8 2615.5L572.8 2615.6L573.8 2615.7L574.8 2615.8L575.8 2615.9L576.8 2616.0L577.8 2616.1L578.8 2616.2L579.8 2616.3L580.8 2616.4L581.8 2616.5L582.8 2616.6L583.8 2616.7L584.8 2616.8L585.8 2616.9L586.8 2617.0L587.8 2617.1L588.8 2617.2L589.8 2617.3L590.8 2617.4L591.8 2617.5L592.8 2617.6L593.8 2617.7L594.8 2617.8L595.8 2617.9L596.8 2618.0L597.8 2618.1L598.8 2618.3L599.8 2618.4L600.0 2618.4L600.8 2618.5L601.8 2618.6L602.8 2618.7L603.8 2618.8L604.8 2619.0L605.8 2619.1L606.8 2619.2L607.8 2619.3L608.8 2619.5L609.8 2619.6L610.8 2619.7L611.8 2619.8L612.8 2620.0L613.8 2620.1L614.8 2620.2L615.8 2620.4L616.8 2620.5L617.8 2620.6L618.8 2620.8L619.8 2620.9L620.8 2621.0L621.8 2621.2L622.8 2621.3L623.8 2621.4L624.8 2621.6L625.8 2621.7L626.8 2621.9L627.8 2622.0L628.8 2622.1L629.8 2622.3L630.8 2622.4L631.8 2622.6L632.8 2622.7L633.8 2622.8L634.8 2623.0L635.8 2623.1L636.8 2623.3L637.8 2623.4L638.8 2623.5L639.8 2623.7L640.8 2623.8L641.8 2624.0L642.8 2624.1L643.8 2624.3L644.8 2624.4L645.8 2624.5L646.8 2624.7L647.8 2624.8L648.8 2625.0L649.8 2625.1L650.8 2625.2L651.8 2625.4L652.8 2625.5L653.8 2625.7L654.8 2625.8L655.8 2625.9L656.8 2626.1L657.8 2626.2L658.8 2626.3L659.8 2626.5L660.8 2626.6L661.8 2626.8L662.8 2626.9L663.8 2627.0L664.8 2627.2L665.8 2627.3L666.8 2627.4L667.4 2627.5L667.8 2627.5L668.8 2627.7L669.8 2627.8L670.8 2627.9L671.8 2628.1L672.8 2628.2L673.8 2628.3L674.8 2628.4L675.8 2628.6L676.8 2628.7L677.8 2628.8L678.8 2629.0L679.8 2629.1L680.8 2629.2L681.8 2629.3L682.8 2629.5L683.8 2629.6L684.8 2629.7L685.8 2629.9L686.8 2630.0L687.8 2630.1L688.8 2630.2L689.8 2630.4L690.8 2630.5L691.8 2630.6L692.8 2630.7L693.8 2630.9L694.8 2631.0L695.8 2631.1L696.8 2631.2L697.8 2631.4L698.8 2631.5L699.8 2631.6L700.8 2631.8L701.8 2631.9L702.8 2632.0L703.8 2632.1L704.8 2632.3L705.8 2632.4L706.8 2632.5L707.8 2632.6L708.8 2632.7L709.8 2632.9L710.8 2633.0L711.8 2633.1L712.8 2633.2L713.8 2633.4L714.8 2633.5L715.8 2633.6L716.8 2633.7L717.8 2633.9L718.8 2634.0L719.8 2634.1L720.8 2634.2L721.8 2634.3L722.8 2634.5L723.8 2634.6L724.8 2634.7L725.8 2634.8L726.8 2635.0L727.8 2635.1L728.8 2635.2L729.8 2635.3L730.8 2635.4L731.8 2635.6L732.8 2635.7L733.8 2635.8L734.8 2635.9L735.8 2636.0L736.8 2636.2L737.8 2636.3L738.8 2636.4L739.8 2636.5L740.8 2636.6L741.8 2636.8L742.8 2636.9L743.8 2637.0L744.8 2637.1L745.8 2637.3L746.8 2637.4L747.8 2637.5L748.8 2637.6L749.8 2637.8L750.8 2637.9L751.8 2638.0L752.8 2638.1L753.8 2638.3L754.8 2638.4L755.8 2638.5L756.8 2638.6L757.8 2638.8L758.8 2638.9L759.8 2639.0L760.8 2639.1L761.8 2639.3L762.8 2639.4L763.8 2639.5L764.8 2639.6L765.8 2639.8L766.8 2639.9L767.8 2640.0L768.8 2640.1L769.8 2640.2L770.8 2640.4L771.8 2640.5L772.8 2640.6L773.8 2640.7L774.8 2640.8L775.8 2640.9L776.8 2641.1L777.8 2641.2L778.8 2641.3L779.8 2641.4L780.8 2641.5L781.8 2641.6L782.8 2641.7L783.8 2641.9L784.8 2642.0L785.8 2642.1L786.8 2642.2L787.8 2642.3L788.8 2642.4L789.8 2642.5L790.8 2642.6L791.8 2642.7L792.8 2642.8L793.8 2642.9L794.8 2643.0L795.8 2643.1L796.8 2643.2L797.8 2643.3L798.8 2643.4L799.8 2643.5L800.8 2643.5L801.8 2643.6L802.2 2643.7L802.8 2643.7L803.8 2643.8L804.8 2643.9L805.8 2644.0L806.8 2644.0L807.8 2644.1L808.8 2644.2L809.8 2644.3L810.8 2644.3L811.8 2644.4L812.8 2644.5L813.8 2644.5L814.8 2644.6L815.8 2644.7L816.8 2644.7L817.8 2644.8L818.8 2644.9L819.8 2644.9L820.8 2645.0L821.8 2645.1L822.8 2645.1L823.8 2645.2L824.8 2645.3L825.8 2645.3L826.8 2645.4L827.8 2645.5L828.8 2645.5L829.8 2645.6L830.8 2645.7L831.8 2645.8L832.8 2645.8L833.7 2645.9L833.8 2645.9L834.8 2646.0L835.8 2646.1L836.8 2646.2L837.8 2646.3L838.8 2646.4L839.8 2646.5L840.8 2646.6L841.8 2646.7L842.8 2646.8L843.8 2646.9L844.8 2647.0L845.8 2647.1L846.8 2647.2L847.8 2647.3L848.8 2647.4L849.8 2647.5L850.8 2647.6L851.8 2647.7L852.8 2647.8L853.8 2648.0L854.8 2648.1L855.8 2648.2L856.8 2648.3L857.8 2648.4L858.8 2648.5L859.8 2648.6L860.8 2648.7L861.8 2648.8L862.8 2648.9L863.8 2649.0L864.8 2649.1L865.8 2649.1L866.8 2649.2L867.4 2649.3L867.8 2649.3L868.8 2649.4L869.8 2649.5L870.8 2649.6L871.8 2649.6L872.8 2649.7L873.8 2649.8L874.8 2649.9L875.8 2649.9L876.8 2650.0L877.8 2650.1L878.8 2650.2L879.8 2650.2L880.8 2650.3L881.8 2650.4L882.8 2650.4L883.8 2650.5L884.8 2650.6L885.8 2650.6L886.8 2650.7L887.8 2650.8L888.8 2650.8L889.8 2650.9L890.8 2651.0L891.8 2651.0L892.8 2651.1L893.8 2651.2L894.8 2651.2L895.8 2651.3L896.8 2651.4L897.8 2651.4L898.8 2651.5L899.8 2651.6L900.8 2651.6L901.1 2651.6L901.8 2651.7L902.8 2651.8L903.8 2651.8L904.8 2651.9L905.8 2651.9L906.8 2652.0L907.8 2652.1L908.8 2652.1L909.8 2652.2L910.8 2652.3L911.8 2652.3L912.8 2652.4L913.8 2652.5L914.8 2652.5L915.8 2652.6L916.8 2652.7L917.8 2652.7L918.8 2652.8L919.8 2652.8L920.8 2652.9L921.8 2653.0L922.8 2653.0L923.8 2653.1L924.8 2653.1L925.8 2653.2L926.8 2653.2L927.8 2653.3L928.8 2653.4L929.8 2653.4L930.8 2653.5L931.8 2653.5L932.8 2653.6L933.8 2653.6L934.8 2653.7L935.8 2653.7L936.8 2653.8L937.8 2653.8L938.8 2653.9L939.8 2653.9L940.8 2653.9L941.8 2654.0L942.8 2654.0L943.8 2654.1L944.8 2654.1L945.8 2654.2L946.8 2654.2L947.8 2654.2L948.8 2654.3L949.8 2654.3L950.8 2654.4L951.8 2654.4L952.8 2654.4L953.8 2654.5L954.8 2654.5L955.8 2654.6L956.8 2654.6L957.8 2654.6L958.8 2654.7L959.8 2654.7L960.8 2654.7L961.8 2654.8L962.8 2654.8L963.8 2654.9L964.8 2654.9L965.8 2654.9L966.8 2655.0L967.8 2655.0L968.5 2655.0L968.8 2655.0L969.8 2655.1L970.8 2655.1L971.8 2655.1L972.8 2655.2L973.8 2655.2L974.8 2655.2L975.8 2655.3L976.8 2655.3L977.8 2655.3L978.8 2655.4L979.8 2655.4L980.8 2655.4L981.8 2655.5L982.8 2655.5L983.8 2655.5L984.8 2655.5L985.8 2655.6L986.8 2655.6L987.8 2655.6L988.8 2655.7L989.8 2655.7L990.8 2655.7L991.8 2655.8L992.8 2655.8L993.8 2655.8L994.8 2655.8L995.8 2655.9L996.8 2655.9L997.8 2655.9L998.8 2655.9L999.8 2656.0L1000.8 2656.0L1001.8 2656.0L1002.2 2656.0L1002.8 2656.0L1003.8 2656.1L1004.8 2656.1L1005.8 2656.1L1006.8 2656.1L1007.8 2656.2L1008.8 2656.2L1009.8 2656.2L1010.8 2656.2L1011.8 2656.3L1012.8 2656.3L1013.8 2656.3L1014.8 2656.4L1015.8 2656.4L1016.8 2656.4L1017.8 2656.4L1018.8 2656.5L1019.8 2656.5L1020.8 2656.5L1021.8 2656.5L1022.8 2656.5L1023.8 2656.6L1024.8 2656.6L1025.8 2656.6L1026.8 2656.6L1027.8 2656.6L1028.8 2656.6L1029.8 2656.7L1030.8 2656.7L1031.8 2656.7L1032.8 2656.7L1033.8 2656.7L1034.8 2656.7L1035.8 2656.7L1035.8 2656.7L1036.8 2656.7L1037.8 2656.7L1038.8 2656.7L1039.8 2656.7L1040.8 2656.7L1041.8 2656.7L1042.8 2656.7L1043.8 2656.7L1044.8 2656.7L1045.8 2656.7L1046.8 2656.6L1047.8 2656.6L1048.8 2656.6L1049.8 2656.6L1050.8 2656.6L1051.8 2656.6L1052.8 2656.6L1053.8 2656.6L1054.8 2656.6L1055.8 2656.5L1056.8 2656.5L1057.8 2656.5L1058.8 2656.5L1059.8 2656.5L1060.8 2656.5L1061.8 2656.5L1062.8 2656.5L1063.8 2656.4L1064.8 2656.4L1065.8 2656.4L1066.8 2656.4L1067.8 2656.4L1068.8 2656.4L1069.5 2656.4L1069.8 2656.4L1070.8 2656.3L1071.8 2656.3L1072.8 2656.3L1073.8 2656.3L1074.8 2656.3L1075.8 2656.3L1076.8 2656.3L1077.8 2656.2L1078.8 2656.2L1079.8 2656.2L1080.8 2656.2L1081.8 2656.2L1082.8 2656.2L1083.8 2656.1L1084.8 2656.1L1085.8 2656.1L1086.8 2656.1L1087.8 2656.1L1088.8 2656.0L1089.8 2656.0L1090.8 2656.0L1091.8 2656.0L1092.8 2656.0L1093.8 2655.9L1094.8 2655.9L1095.8 2655.9L1096.8 2655.9L1097.8 2655.8L1098.8 2655.8L1099.8 2655.8L1100.8 2655.8L1101.8 2655.7L1102.8 2655.7L1103.2 2655.7L1103.8 2655.7L1104.8 2655.6L1105.8 2655.6L1106.8 2655.6L1107.8 2655.5L1108.8 2655.5L1109.8 2655.5L1110.8 2655.4L1111.8 2655.4L1112.8 2655.3L1113.8 2655.3L1114.8 2655.2L1115.8 2655.2L1116.8 2655.1L1117.8 2655.1L1118.8 2655.0L1119.8 2655.0L1120.8 2654.9L1121.8 2654.8L1122.8 2654.8L1123.8 2654.7L1124.8 2654.7L1125.8 2654.6L1126.8 2654.6L1127.8 2654.5L1128.8 2654.4L1129.8 2654.4L1130.8 2654.3L1131.8 2654.3L1132.8 2654.2L1133.8 2654.2L1134.8 2654.1L1135.8 2654.1L1136.8 2654.0L1136.9 2654.0L1137.8 2654.0L1138.8 2653.9L1139.8 2653.9L1140.8 2653.8L1141.8 2653.8L1142.8 2653.7L1143.8 2653.7L1144.8 2653.6L1145.8 2653.6L1146.8 2653.5L1147.8 2653.5L1148.8 2653.4L1149.8 2653.4L1150.8 2653.3L1151.8 2653.3L1152.8 2653.2L1153.8 2653.2L1154.8 2653.1L1155.8 2653.1L1156.8 2653.0L1157.8 2652.9L1158.8 2652.9L1159.8 2652.8L1160.8 2652.8L1161.8 2652.7L1162.8 2652.7L1163.8 2652.7L1164.8 2652.6L1165.8 2652.6L1166.8 2652.5L1167.8 2652.5L1168.8 2652.4L1169.8 2652.4L1170.6 2652.3L1170.8 2652.3L1171.8 2652.3L1172.8 2652.2L1173.8 2652.2L1174.8 2652.1L1175.8 2652.1L1176.8 2652.0L1177.8 2652.0L1178.8 2651.9L1179.8 2651.9L1180.8 2651.8L1181.8 2651.8L1182.8 2651.8L1183.8 2651.7L1184.8 2651.7L1185.8 2651.6L1186.8 2651.6L1187.8 2651.5L1188.8 2651.5L1189.8 2651.4L1190.8 2651.4L1191.8 2651.4L1192.8 2651.3L1193.8 2651.3L1194.8 2651.2L1195.8 2651.2L1196.8 2651.1L1197.8 2651.1L1198.8 2651.0L1199.8 2651.0L1200.0 2651.0L1200.8 2650.9L1201.8 2650.9L1202.8 2650.8L1203.8 2650.8L1204.8 2650.7L1205.8 2650.7L1206.8 2650.6L1207.8 2650.6L1208.8 2650.6L1209.8 2650.5L1210.8 2650.5L1211.8 2650.4L1212.8 2650.4L1213.8 2650.3L1214.8 2650.3L1215.8 2650.2L1216.8 2650.2L1217.8 2650.1L1218.8 2650.1L1219.8 2650.0L1220.8 2650.0L1221.8 2649.9L1222.8 2649.9L1223.8 2649.8L1224.8 2649.8L1225.8 2649.7L1226.8 2649.7L1227.8 2649.6L1228.8 2649.6L1229.8 2649.6L1230.8 2649.5L1231.8 2649.5L1232.8 2649.4L1233.8 2649.4L1234.8 2649.3L1235.8 2649.3L1236.8 2649.2L1237.8 2649.2L1238.8 2649.1L1239.8 2649.1L1240.8 2649.0L1241.8 2649.0L1242.8 2648.9L1243.8 2648.9L1244.8 2648.8L1245.8 2648.8L1246.8 2648.7L1247.8 2648.7L1248.8 2648.6L1249.8 2648.6L1250.8 2648.5L1251.8 2648.4L1252.8 2648.4L1253.8 2648.3L1254.8 2648.3L1255.8 2648.2L1256.8 2648.2L1257.8 2648.1L1258.8 2648.1L1259.8 2648.0L1260.8 2648.0L1261.8 2647.9L1262.8 2647.9L1263.8 2647.8L1264.8 2647.7L1265.8 2647.7L1266.8 2647.6L1267.4 2647.6L1267.8 2647.6L1268.8 2647.5L1269.8 2647.5L1270.8 2647.4L1271.8 2647.3L1272.8 2647.3L1273.8 2647.2L1274.8 2647.2L1275.8 2647.1L1276.8 2647.0L1277.8 2647.0L1278.8 2646.9L1279.8 2646.8L1280.8 2646.8L1281.8 2646.7L1282.8 2646.6L1283.8 2646.6L1284.8 2646.5L1285.8 2646.4L1286.8 2646.4L1287.8 2646.3L1288.8 2646.2L1289.8 2646.2L1290.8 2646.1L1291.8 2646.0L1292.8 2646.0L1293.8 2645.9L1294.8 2645.8L1295.8 2645.8L1296.8 2645.7L1297.8 2645.6L1298.8 2645.5L1299.8 2645.5L1300.8 2645.4L1301.8 2645.3L1302.8 2645.3L1303.8 2645.2L1304.8 2645.1L1305.8 2645.1L1306.8 2645.0L1307.8 2644.9L1308.8 2644.8L1309.8 2644.8L1310.8 2644.7L1311.8 2644.6L1312.8 2644.6L1313.8 2644.5L1314.8 2644.4L1315.8 2644.4L1316.8 2644.3L1317.8 2644.2L1318.8 2644.2L1319.8 2644.1L1320.8 2644.0L1321.8 2644.0L1322.8 2643.9L1323.8 2643.9L1324.8 2643.8L1325.8 2643.7L1326.8 2643.7L1327.8 2643.6L1328.8 2643.6L1329.8 2643.5L1330.8 2643.4L1331.8 2643.4L1332.8 2643.3L1333.8 2643.3L1334.8 2643.2L1335.8 2643.2L1336.8 2643.1L1337.8 2643.1L1338.8 2643.0L1339.8 2643.0L1340.8 2642.9L1341.8 2642.9L1342.8 2642.8L1343.8 2642.8L1344.8 2642.7L1345.8 2642.7L1346.8 2642.6L1347.8 2642.6L1348.8 2642.5L1349.8 2642.5L1350.8 2642.4L1351.8 2642.4L1352.8 2642.3L1353.8 2642.3L1354.8 2642.2L1355.8 2642.2L1356.8 2642.2L1357.8 2642.1L1358.8 2642.1L1359.8 2642.0L1360.8 2642.0L1361.8 2641.9L1362.8 2641.9L1363.8 2641.9L1364.8 2641.8L1365.8 2641.8L1366.8 2641.7L1367.8 2641.7L1368.8 2641.6L1369.8 2641.6L1370.8 2641.6L1371.8 2641.5L1372.8 2641.5L1373.8 2641.4L1374.8 2641.4L1375.8 2641.3L1376.8 2641.3L1377.8 2641.3L1378.8 2641.2L1379.8 2641.2L1380.8 2641.1L1381.8 2641.1L1382.8 2641.1L1383.8 2641.0L1384.8 2641.0L1385.8 2640.9L1386.8 2640.9L1387.8 2640.8L1388.8 2640.8L1389.8 2640.8L1390.8 2640.7L1391.8 2640.7L1392.8 2640.6L1393.8 2640.6L1394.8 2640.5L1395.8 2640.5L1396.8 2640.4L1397.8 2640.4L1398.8 2640.3L1399.8 2640.3L1400.8 2640.3L1401.8 2640.2L1402.2 2640.2L1402.8 2640.2L1403.8 2640.1L1404.8 2640.1L1405.8 2640.0L1406.8 2640.0L1407.8 2639.9L1408.8 2639.9L1409.8 2639.8L1410.8 2639.8L1411.8 2639.7L1412.8 2639.7L1413.8 2639.7L1414.8 2639.6L1415.8 2639.6L1416.8 2639.5L1417.8 2639.5L1418.8 2639.4L1419.8 2639.4L1420.8 2639.4L1421.8 2639.3L1422.8 2639.3L1423.8 2639.2L1424.8 2639.2L1425.8 2639.1L1426.8 2639.1L1427.8 2639.1L1428.8 2639.0L1429.8 2639.0L1430.8 2638.9L1431.8 2638.9L1432.8 2638.8L1433.8 2638.8L1434.8 2638.7L1435.8 2638.7L1436.8 2638.6L1437.8 2638.6L1438.8 2638.6L1439.8 2638.5L1440.8 2638.5L1441.8 2638.4L1442.8 2638.4L1443.8 2638.3L1444.8 2638.3L1445.8 2638.2L1446.8 2638.2L1447.8 2638.1L1448.8 2638.1L1449.8 2638.0L1450.8 2638.0L1451.8 2637.9L1452.8 2637.9L1453.8 2637.8L1454.8 2637.7L1455.8 2637.7L1456.8 2637.6L1457.8 2637.6L1458.8 2637.5L1459.8 2637.5L1460.8 2637.4L1461.8 2637.3L1462.8 2637.3L1463.8 2637.2L1464.8 2637.1L1465.8 2637.1L1466.8 2637.0L1467.8 2636.9L1468.8 2636.9L1469.5 2636.8L1469.8 2636.8L1470.8 2636.7L1471.8 2636.7L1472.8 2636.6L1473.8 2636.5L1474.8 2636.4L1475.8 2636.3L1476.8 2636.3L1477.8 2636.2L1478.8 2636.1L1479.8 2636.0L1480.8 2635.9L1481.8 2635.8L1482.8 2635.7L1483.8 2635.6L1484.8 2635.5L1485.8 2635.4L1486.8 2635.3L1487.8 2635.2L1488.8 2635.1L1489.8 2635.0L1490.8 2634.9L1491.8 2634.8L1492.8 2634.6L1493.8 2634.5L1494.8 2634.4L1495.8 2634.3L1496.8 2634.2L1497.8 2634.1L1498.8 2633.9L1499.8 2633.8L1500.8 2633.7L1501.8 2633.6L1502.8 2633.5L1503.8 2633.3L1504.8 2633.2L1505.8 2633.1L1506.8 2632.9L1507.8 2632.8L1508.8 2632.7L1509.8 2632.6L1510.8 2632.4L1511.8 2632.3L1512.8 2632.2L1513.8 2632.0L1514.8 2631.9L1515.8 2631.8L1516.8 2631.7L1517.8 2631.5L1518.8 2631.4L1519.8 2631.3L1520.8 2631.1L1521.8 2631.0L1522.8 2630.9L1523.8 2630.7L1524.8 2630.6L1525.8 2630.5L1526.8 2630.4L1527.8 2630.2L1528.8 2630.1L1529.8 2630.0L1530.8 2629.8L1531.8 2629.7L1532.8 2629.6L1533.8 2629.5L1534.8 2629.3L1535.8 2629.2L1536.8 2629.1L1536.9 2629.1L1537.8 2629.0L1538.8 2628.8L1539.8 2628.7L1540.8 2628.6L1541.8 2628.5L1542.8 2628.3L1543.8 2628.2L1544.8 2628.1L1545.8 2627.9L1546.8 2627.8L1547.8 2627.7L1548.8 2627.5L1549.8 2627.4L1550.8 2627.3L1551.8 2627.1L1552.8 2627.0L1553.8 2626.9L1554.8 2626.7L1555.8 2626.6L1556.8 2626.5L1557.8 2626.3L1558.8 2626.2L1559.8 2626.1L1560.8 2625.9L1561.8 2625.8L1562.8 2625.7L1563.8 2625.5L1564.8 2625.4L1565.8 2625.3L1566.8 2625.2L1567.8 2625.0L1568.8 2624.9L1569.8 2624.8L1570.6 2624.7L1570.8 2624.7L1571.8 2624.6L1572.8 2624.4L1573.0 2624.4L1573.8 2624.3L1574.8 2624.2L1575.8 2624.0L1576.8 2623.9L1577.8 2623.8L1578.8 2623.6L1579.8 2623.4L1580.8 2623.3L1581.8 2623.1L1582.8 2623.0L1583.8 2622.8L1584.8 2622.6L1585.8 2622.4L1586.8 2622.3L1587.8 2622.1L1588.8 2621.9L1589.8 2621.7L1589.8 2621.7L1590.8 2621.6L1591.8 2621.4L1592.8 2621.2L1593.8 2621.0L1594.8 2620.8L1595.8 2620.6L1596.8 2620.4L1597.8 2620.2L1598.8 2620.0L1599.8 2619.8L1600.8 2619.6L1601.8 2619.4L1602.8 2619.2L1603.8 2619.0L1604.8 2618.8L1605.8 2618.6L1606.7 2618.4L1606.8 2618.3L1607.8 2618.1L1608.8 2617.9L1609.8 2617.6L1610.8 2617.3L1611.8 2617.0L1612.8 2616.8L1613.8 2616.5L1614.8 2616.2L1615.8 2615.9L1616.8 2615.6L1617.8 2615.4L1618.8 2615.1L1619.8 2614.8L1620.8 2614.6L1621.8 2614.3L1622.8 2614.1L1623.5 2614.0L1623.8 2613.9L1624.8 2613.8L1625.8 2613.6L1626.8 2613.5L1627.8 2613.4L1628.8 2613.2L1629.8 2613.1L1630.8 2612.9L1631.8 2612.7L1632.0 2612.6L1632.8 2612.4L1633.8 2612.0L1634.8 2611.5L1635.8 2611.0L1636.8 2610.4L1637.8 2609.8L1638.8 2609.2L1639.8 2608.6L1640.4 2608.2L1640.8 2608.0L1641.8 2607.4L1642.8 2606.8L1643.8 2606.2L1644.8 2605.6L1645.8 2604.9L1646.8 2604.3L1647.8 2603.6L1648.8 2602.8L1649.8 2602.1L1650.5 2601.5L1650.8 2601.3L1651.8 2600.5L1652.8 2599.6L1653.8 2598.7L1654.8 2597.7L1655.8 2596.7L1656.8 2595.7L1657.8 2594.6L1658.8 2593.5L1659.8 2592.4L1660.6 2591.4L1660.8 2591.2L1661.8 2590.0L1662.8 2588.7L1663.8 2587.4L1664.8 2586.1L1665.8 2584.6L1666.8 2583.2L1667.8 2581.6L1668.8 2580.0L1669.0 2579.6L1669.8 2578.3L1670.8 2576.6L1671.8 2574.7L1672.8 2572.7L1673.8 2570.7L1674.8 2568.6L1675.8 2566.5L1676.8 2564.3L1677.4 2562.8L1677.8 2562.0L1678.8 2559.8L1679.8 2557.4L1680.8 2555.0L1681.8 2552.5L1682.8 2549.8L1683.8 2547.1L1684.2 2545.9L1684.8 2544.2L1685.8 2541.1L1686.8 2537.8L1687.8 2534.3L1688.8 2530.8L1689.2 2529.1L1689.8 2527.1L1690.8 2523.4L1691.8 2519.5L1692.8 2515.4L1693.8 2511.2L1694.3 2508.9L1694.8 2506.7L1695.8 2501.9L1696.8 2496.9L1697.8 2491.6L1698.3 2488.6L1698.8 2486.3L1699.8 2480.8L1700.8 2475.1L1701.0 2473.5L1701.8 2468.5L1702.8 2461.7L1703.1 2460.0L1703.8 2456.3L1704.8 2452.0L1705.8 2447.5L1706.4 2444.2L1706.8 2442.1L1707.8 2435.3L1708.8 2427.9L1709.1 2425.3L1709.8 2420.3L1710.8 2412.4L1711.8 2404.1L1711.8 2403.7L1712.8 2395.4L1713.8 2386.4L1714.5 2379.5L1714.8 2377.0L1715.8 2367.0L1716.8 2356.9L1717.2 2352.5L1717.8 2346.9L1718.8 2337.0L1719.8 2326.9L1719.9 2325.6L1720.8 2316.2L1721.8 2305.1L1722.6 2295.9L1722.8 2294.0L1723.8 2283.1L1724.8 2272.1L1725.3 2266.3L1725.8 2260.6L1726.8 2248.3L1727.8 2236.3L1728.0 2233.9L1728.8 2225.8L1729.8 2216.1L1730.7 2207.0L1730.8 2206.0L1731.8 2195.6L1732.8 2184.3L1733.1 2180.0L1733.8 2170.0L1734.8 2151.9L1735.8 2132.6L1736.8 2114.9L1737.1 2109.3L1737.8 2100.9L1738.8 2088.8L1739.8 2077.5L1740.5 2068.9L1740.8 2065.8L1741.8 2053.5L1742.8 2041.2L1743.8 2029.7L1743.9 2028.5L1744.8 2018.9L1745.8 2008.7L1746.8 1999.1L1747.3 1994.8L1747.8 1990.1L1748.8 1981.4L1749.8 1973.5L1750.6 1967.8L1750.8 1966.9L1751.8 1961.9L1752.3 1959.4L1752.8 1956.8L1753.3 1955.0L1753.8 1955.8L1754.7 1959.4L1754.8 1959.8L1755.7 1964.4L1755.8 1965.2L1756.8 1978.4L1757.4 1988.0L1757.8 1994.9L1758.8 2013.2L1759.0 2018.4L1759.8 2032.5L1760.7 2052.0L1760.8 2053.0L1761.8 2074.6L1762.4 2089.1L1762.8 2097.3L1763.8 2121.1L1764.1 2129.5L1764.8 2142.9L1765.4 2170.0L1765.5 2180.0L1765.8 2198.8L1766.0 2207.0L1766.8 2227.5L1767.1 2233.9L1767.8 2248.3L1768.7 2266.3L1768.8 2268.0L1769.8 2289.6L1770.3 2301.3L1770.8 2311.0L1771.8 2332.6L1771.9 2336.3L1772.8 2361.6L1773.0 2368.7L1773.8 2392.7L1774.1 2401.0L1774.8 2416.2L1775.7 2433.4L1775.8 2434.7L1776.8 2451.5L1777.3 2460.3L1777.8 2468.2L1778.5 2480.2L1778.8 2483.2L1779.8 2493.7L1780.8 2502.8L1781.2 2507.2L1781.8 2512.8L1782.8 2523.3L1783.6 2530.8L1783.8 2532.3L1784.8 2540.3L1785.8 2546.7L1785.9 2547.6L1786.8 2551.5L1787.8 2555.3L1788.6 2557.7L1788.8 2558.0L1789.8 2560.0L1790.8 2561.7L1791.8 2563.0L1792.7 2563.8L1792.8 2563.8L1793.8 2564.5L1794.8 2565.1L1795.8 2565.6L1796.8 2566.0L1797.8 2566.3L1798.7 2566.5L1798.8 2566.5L1799.8 2566.6L1800.8 2566.8L1801.8 2566.9L1802.8 2567.0L1803.8 2567.1L1804.8 2567.2L1805.8 2567.3L1806.8 2567.4L1807.8 2567.4L1808.8 2567.5L1808.8 2567.5L1809.8 2567.5L1810.8 2567.6L1811.8 2567.6L1812.8 2567.6L1813.8 2567.6L1814.8 2567.7L1815.8 2567.7L1816.8 2567.7L1817.8 2567.8L1818.8 2567.8L1819.0 2567.8L1819.8 2567.9L1820.8 2568.0L1821.8 2568.1L1822.8 2568.2L1823.8 2568.4L1824.8 2568.6L1825.8 2568.8L1826.8 2569.0L1827.8 2569.2L1828.8 2569.4L1829.1 2569.5L1829.8 2569.7L1830.8 2570.0L1831.8 2570.3L1832.8 2570.7L1833.8 2571.1L1834.8 2571.5L1835.8 2572.0L1836.8 2572.5L1837.5 2572.9L1837.8 2573.0L1838.8 2573.6L1839.8 2574.3L1840.8 2575.0L1841.8 2575.8L1842.8 2576.6L1843.8 2577.5L1844.2 2577.9L1844.8 2578.5L1845.8 2579.5L1846.8 2580.7L1847.8 2581.9L1848.8 2583.2L1849.8 2584.6L1850.8 2586.1L1851.0 2586.3L1851.8 2587.6L1852.8 2589.2L1853.8 2590.9L1854.8 2592.7L1855.8 2594.5L1856.8 2596.4L1857.7 2598.1L1857.8 2598.3L1858.8 2600.2L1859.8 2602.1L1860.8 2604.0L1861.8 2606.0L1862.8 2608.1L1863.8 2610.2L1864.4 2611.6L1864.8 2612.3L1865.8 2614.5L1866.8 2616.6L1867.8 2618.9L1868.8 2621.4L1869.5 2623.4L1869.8 2624.2L1870.8 2627.3L1871.8 2630.8L1872.8 2634.8L1872.9 2635.2L1873.8 2640.2L1874.8 2646.3L1875.2 2648.7L1875.8 2651.3L1876.8 2656.1L1877.8 2658.7L1877.9 2658.8L1878.8 2658.1L1879.8 2656.1L1880.8 2653.5L1881.3 2652.0L1881.8 2650.5L1882.8 2646.1L1883.8 2641.5L1884.7 2638.6L1884.8 2638.3L1885.8 2636.2L1886.8 2634.5L1887.8 2633.6L1888.0 2633.5L1888.8 2633.9L1889.8 2635.6L1890.8 2638.3L1891.4 2640.3L1891.8 2642.0L1892.8 2649.8L1893.8 2658.8L1893.8 2658.9L1894.8 2668.0L1895.8 2677.2L1896.5 2682.4L1896.8 2684.6L1897.8 2691.6L1898.8 2695.2L1898.8 2695.2L1899.8 2695.1L1900.8 2694.8L1901.8 2694.4L1902.2 2694.2L1902.8 2693.1L1903.8 2688.9L1904.8 2683.0L1904.9 2682.4L1905.8 2673.9L1906.6 2667.2L1906.8 2666.3L1907.8 2662.7L1908.2 2662.2L1908.8 2663.6L1909.8 2671.0L1909.9 2672.3L1910.8 2681.4L1911.6 2692.5L1911.8 2694.6L1912.8 2708.6L1913.3 2716.1L1913.8 2722.7L1914.8 2736.7L1915.0 2739.6L1915.8 2750.9L1916.7 2763.2L1916.8 2764.6L1917.8 2776.4L1918.4 2783.5L1918.8 2789.3L1919.8 2803.7L1920.0 2807.0L1920.8 2816.0L1921.7 2823.9L1921.8 2824.0L1922.8 2826.0L1923.8 2827.3L1924.4 2828.9L1924.8 2831.1L1925.8 2843.3L1926.1 2847.5L1926.8 2855.5L1927.4 2864.3L1927.8 2868.9L1928.5 2880.1L1928.8 2886.4L1929.8 2910.5L1930.8 2941.0L1930.8 2942.0" fill="none" stroke="#000" stroke-width="3.0" stroke-linejoin="round" stroke-linecap="butt" shape-rendering="crispEdges"/>
<path d="M349.9 2779.5L349.9 2823.0L351.5 2819.6L353.2 2868.5L355.6 2919.0L358.0 2956.1L360.3 2967.9L363.0 2952.7L365.7 2925.7L368.4 2905.5L371.4 2892.0L375.8 2884.6L382.5 2878.6L391.0 2875.2L401.1 2872.8L417.9 2869.5L418.9 2869.2L419.9 2868.9L420.9 2868.6L421.9 2868.3L422.9 2868.0L423.9 2867.7L424.9 2867.4L425.9 2867.0L426.9 2866.7L427.9 2866.4L428.9 2866.1L429.9 2865.7L430.9 2865.4L431.9 2865.1L432.9 2864.7L433.9 2864.4L434.8 2864.1L434.9 2864.0L435.9 2863.7L436.9 2863.3L437.9 2863.0L438.9 2862.6L439.9 2862.3L440.9 2861.9L441.9 2861.5L442.9 2861.2L443.9 2860.8L444.9 2860.4L445.9 2860.0L446.9 2859.6L447.9 2859.2L448.9 2858.8L449.9 2858.4L450.9 2858.0L451.6 2857.7L451.9 2857.5L452.9 2857.1L453.9 2856.7L454.9 2856.2L455.9 2855.7L456.9 2855.3L457.9 2854.8L458.9 2854.3L459.9 2853.8L460.9 2853.3L461.9 2852.7L462.9 2852.2L463.9 2851.7L464.9 2851.2L465.9 2850.6L466.9 2850.1L467.9 2849.6L468.5 2849.3L468.9 2849.0L469.9 2848.5L470.9 2847.9L471.9 2847.3L472.9 2846.8L473.9 2846.2L474.9 2845.6L475.9 2845.0L476.9 2844.4L477.9 2843.8L478.9 2843.2L479.9 2842.6L480.9 2842.0L481.9 2841.4L482.9 2840.7L483.9 2840.1L484.9 2839.4L485.3 2839.2L485.9 2838.7L486.9 2838.1L487.9 2837.4L488.9 2836.6L489.9 2835.9L490.9 2835.2L491.9 2834.4L492.9 2833.7L493.9 2832.9L494.9 2832.2L495.9 2831.4L496.9 2830.6L497.9 2829.8L498.9 2829.0L499.9 2828.2L500.9 2827.4L501.9 2826.5L502.2 2826.3L502.9 2825.7L503.9 2824.9L504.9 2824.0L505.9 2823.2L506.9 2822.3L507.9 2821.4L508.9 2820.5L509.9 2819.6L510.9 2818.7L511.9 2817.8L512.9 2816.9L513.9 2816.0L514.9 2815.0L515.9 2814.1L516.9 2813.1L517.9 2812.2L518.9 2811.3L519.0 2811.2L519.9 2810.3L520.9 2809.4L521.9 2808.4L522.9 2807.4L523.9 2806.5L524.9 2805.5L525.9 2804.5L526.9 2803.6L527.9 2802.6L528.9 2801.6L529.9 2800.6L530.9 2799.5L531.9 2798.5L532.9 2797.5L533.9 2796.4L534.9 2795.3L535.8 2794.3L535.9 2794.3L536.9 2793.2L537.9 2792.0L538.9 2790.9L539.9 2789.8L540.9 2788.6L541.9 2787.4L542.9 2786.2L543.9 2785.0L544.9 2783.8L545.9 2782.6L546.9 2781.4L547.9 2780.1L548.9 2778.9L549.9 2777.6L550.9 2776.4L551.9 2775.1L552.7 2774.1L552.9 2773.8L553.9 2772.6L554.9 2771.3L555.9 2770.0L556.9 2768.7L557.9 2767.4L558.9 2766.0L559.9 2764.7L560.9 2763.4L561.9 2762.0L562.9 2760.7L563.9 2759.3L564.9 2757.9L565.9 2756.6L566.9 2755.2L567.9 2753.8L568.9 2752.4L569.5 2751.5L569.9 2751.0L570.9 2749.6L571.9 2748.2L572.9 2746.8L573.9 2745.4L574.9 2744.0L575.9 2742.5L576.9 2741.1L577.9 2739.7L578.9 2738.2L579.9 2736.7L580.9 2735.3L581.9 2733.8L582.9 2732.3L583.9 2730.8L584.9 2729.2L585.9 2727.7L586.4 2727.0L586.9 2726.1L587.9 2724.5L588.9 2722.9L589.9 2721.3L590.9 2719.7L591.9 2718.1L592.9 2716.4L593.9 2714.7L594.9 2713.1L595.9 2711.4L596.9 2709.6L597.9 2707.9L598.9 2706.2L599.9 2704.4L600.9 2702.6L601.5 2701.5L601.9 2700.8L602.9 2699.0L603.9 2697.1L604.9 2695.2L605.9 2693.3L606.9 2691.4L607.9 2689.4L608.9 2687.4L609.9 2685.4L610.0 2685.3L610.9 2683.4L611.9 2681.3L612.9 2679.1L613.9 2676.9L614.9 2674.8L615.9 2672.6L616.9 2670.3L617.9 2668.1L618.9 2665.9L619.9 2663.7L620.1 2663.4L620.9 2661.6L621.9 2659.4L622.9 2657.3L623.9 2655.1L624.9 2653.0L625.9 2650.8L626.9 2648.6L627.9 2646.5L628.9 2644.3L629.9 2642.1L630.2 2641.5L630.9 2639.9L631.9 2637.8L632.9 2635.8L633.9 2633.6L634.9 2631.4L635.9 2629.0L636.9 2626.4L636.9 2626.3L637.9 2623.5L638.9 2620.2L639.9 2616.3L640.3 2614.6L640.9 2610.9L641.9 2603.4L642.7 2597.7L642.9 2595.5L643.9 2586.5L644.3 2584.2L644.9 2582.5L645.9 2580.4L646.9 2579.2L647.0 2579.2L647.9 2578.8L648.9 2578.5L649.9 2578.3L650.4 2578.2L650.9 2578.1L651.9 2578.0L652.9 2577.9L653.9 2577.8L654.9 2577.6L655.5 2577.5L655.9 2577.3L656.9 2576.7L657.9 2575.7L658.9 2574.5L659.9 2573.2L660.5 2572.4L660.9 2571.9L661.9 2570.4L662.9 2568.8L663.9 2567.0L664.9 2565.2L665.6 2564.0L665.9 2563.4L666.9 2561.5L667.9 2559.5L668.9 2557.5L669.9 2555.4L670.6 2553.9L670.9 2553.3L671.9 2551.0L672.9 2548.7L673.9 2546.4L674.9 2544.0L675.9 2541.8L676.9 2539.6L677.4 2538.7L677.9 2537.7L678.9 2535.9L679.9 2534.2L680.9 2532.5L680.9 2532.4L681.9 2530.3L682.9 2528.2L683.9 2525.9L684.9 2523.6L685.9 2521.2L686.9 2518.8L687.9 2516.3L688.9 2513.9L689.9 2511.4L690.9 2509.0L691.0 2508.9L691.9 2506.6L692.9 2504.1L693.9 2501.6L694.9 2499.1L695.9 2496.6L696.9 2494.1L697.9 2491.6L698.9 2489.0L699.9 2486.5L700.9 2484.0L701.1 2483.6L701.9 2481.5L702.9 2479.0L703.9 2476.5L704.9 2473.9L705.9 2471.4L706.9 2468.9L707.9 2466.4L708.9 2463.9L709.9 2461.4L710.9 2459.0L711.2 2458.4L711.9 2456.6L712.9 2454.2L713.9 2451.8L714.9 2449.5L715.9 2447.2L716.9 2444.9L717.9 2442.6L718.9 2440.3L719.9 2438.0L720.9 2435.6L721.3 2434.8L721.9 2433.3L722.9 2430.9L723.9 2428.6L724.9 2426.2L725.9 2423.9L726.9 2421.5L727.9 2419.2L728.9 2416.8L729.9 2414.5L730.9 2412.3L731.4 2411.2L731.9 2410.0L732.9 2407.8L733.9 2405.6L734.9 2403.4L735.9 2401.2L736.9 2399.0L737.9 2396.9L738.9 2394.7L739.9 2392.6L740.9 2390.5L741.5 2389.3L741.9 2388.4L742.9 2386.3L743.9 2384.2L744.9 2382.1L745.9 2380.0L746.9 2378.0L747.9 2376.0L748.9 2374.0L749.9 2372.1L750.9 2370.3L751.6 2369.1L751.9 2368.5L752.9 2366.9L753.9 2365.2L754.9 2363.6L755.9 2362.1L756.9 2360.5L757.9 2359.1L758.9 2357.7L759.9 2356.3L760.9 2354.9L761.7 2353.9L761.9 2353.7L762.9 2352.4L763.9 2351.1L764.9 2349.9L765.9 2348.7L766.9 2347.5L767.9 2346.4L768.9 2345.3L769.9 2344.4L770.9 2343.5L771.8 2342.8L771.9 2342.7L772.9 2342.0L773.9 2341.3L774.9 2340.6L775.9 2340.0L776.9 2339.5L777.9 2339.0L778.9 2338.5L779.9 2338.2L780.3 2338.1L780.9 2337.9L781.9 2337.6L782.9 2337.3L783.9 2337.1L784.9 2336.9L785.9 2336.8L786.9 2336.7L787.0 2336.7L787.9 2336.8L788.9 2336.8L789.9 2337.0L790.9 2337.1L791.9 2337.3L792.9 2337.5L793.7 2337.7L793.9 2337.8L794.9 2338.1L795.9 2338.5L796.9 2339.1L797.9 2339.7L798.9 2340.4L799.9 2341.1L800.9 2341.9L801.9 2342.6L802.2 2342.8L802.9 2343.4L803.9 2344.2L804.9 2345.1L805.9 2346.1L806.9 2347.1L807.9 2348.2L808.9 2349.3L809.9 2350.4L810.6 2351.2L810.9 2351.6L811.9 2352.9L812.9 2354.1L813.9 2355.5L814.9 2356.9L815.9 2358.4L816.9 2359.9L817.9 2361.5L818.9 2363.2L819.0 2363.3L819.9 2365.0L820.9 2366.8L821.9 2368.8L822.9 2370.9L823.9 2373.0L824.9 2375.2L825.9 2377.4L826.9 2379.7L827.4 2380.9L827.9 2382.0L828.9 2384.4L829.9 2387.0L830.9 2389.5L831.9 2392.2L832.9 2394.8L833.9 2397.6L834.9 2400.3L835.8 2402.8L835.9 2403.0L836.9 2405.7L837.9 2408.4L838.9 2411.1L839.9 2413.9L840.9 2416.7L841.9 2419.5L842.9 2422.4L843.9 2425.3L844.3 2426.3L844.9 2428.3L845.9 2431.4L846.9 2434.5L847.9 2437.7L848.9 2440.9L849.9 2444.2L850.9 2447.5L851.9 2450.8L852.7 2453.3L852.9 2454.1L853.9 2457.4L854.9 2460.7L855.9 2464.1L856.9 2467.5L857.9 2470.9L858.9 2474.3L859.9 2477.8L860.9 2481.3L861.1 2481.9L861.9 2484.8L862.9 2488.4L863.9 2492.0L864.9 2495.6L865.9 2499.3L866.9 2502.9L867.9 2506.5L868.9 2510.1L869.5 2512.3L869.9 2513.6L870.9 2517.1L871.9 2520.5L872.9 2523.9L873.9 2527.3L874.9 2530.6L875.9 2534.0L876.9 2537.4L877.9 2540.8L878.0 2540.9L878.9 2544.2L879.9 2547.6L880.9 2551.0L881.9 2554.5L882.9 2557.9L883.9 2561.3L884.9 2564.7L885.9 2568.0L886.4 2569.5L886.9 2571.3L887.9 2574.6L888.9 2577.8L889.9 2581.0L890.9 2584.2L891.9 2587.3L892.9 2590.5L893.9 2593.7L894.8 2596.5L894.9 2596.9L895.9 2600.1L896.9 2603.3L897.9 2606.6L898.9 2609.9L899.9 2613.1L900.9 2616.3L901.9 2619.5L902.9 2622.5L903.2 2623.5L903.9 2625.5L904.9 2628.4L905.9 2631.2L906.9 2634.0L907.9 2636.8L908.9 2639.5L909.9 2642.2L910.9 2645.0L911.7 2647.0L911.9 2647.8L912.9 2650.6L913.9 2653.4L914.9 2656.3L915.9 2659.1L916.9 2661.9L917.9 2664.7L918.9 2667.5L919.9 2670.2L920.1 2670.6L920.9 2672.9L921.9 2675.6L922.9 2678.3L923.9 2680.9L924.9 2683.6L925.9 2686.1L926.9 2688.7L927.9 2691.1L928.5 2692.5L928.9 2693.5L929.9 2695.8L930.9 2698.1L931.9 2700.4L932.9 2702.6L933.9 2704.7L934.9 2706.8L935.9 2709.0L936.9 2711.0L936.9 2711.1L937.9 2713.1L938.9 2715.1L939.9 2717.1L940.9 2719.1L941.9 2721.0L942.9 2722.9L943.9 2724.9L944.9 2726.8L944.9 2726.9L945.9 2728.9L946.9 2730.9L947.9 2733.0L948.9 2735.0L949.9 2737.1L950.9 2739.1L951.9 2741.1L952.9 2743.1L953.9 2745.0L954.9 2746.9L955.0 2747.0L955.9 2748.7L956.9 2750.4L957.9 2752.2L958.9 2753.9L959.9 2755.5L960.9 2757.2L961.9 2758.8L962.9 2760.4L963.9 2762.0L964.9 2763.6L965.1 2763.8L965.9 2765.1L966.9 2766.7L967.9 2768.2L968.9 2769.7L969.9 2771.3L970.9 2772.7L971.9 2774.2L972.9 2775.7L973.9 2777.1L974.9 2778.6L975.2 2779.0L975.9 2780.0L976.9 2781.5L977.9 2782.9L978.9 2784.3L979.9 2785.8L980.9 2787.2L981.9 2788.6L982.9 2789.9L983.9 2791.3L984.9 2792.6L985.3 2793.2L985.9 2794.0L986.9 2795.3L987.9 2796.6L988.9 2797.9L989.9 2799.1L990.9 2800.4L991.9 2801.7L992.9 2802.9L993.9 2804.1L994.9 2805.4L995.4 2806.0L995.9 2806.6L996.9 2807.8L997.9 2809.0L998.9 2810.2L999.9 2811.4L1000.9 2812.6L1001.9 2813.7L1002.9 2814.9L1003.9 2816.0L1004.9 2817.1L1005.5 2817.7L1005.9 2818.2L1006.9 2819.2L1007.9 2820.3L1008.9 2821.3L1009.9 2822.3L1010.9 2823.2L1011.9 2824.2L1012.9 2825.2L1013.9 2826.2L1014.9 2827.2L1015.6 2827.9L1015.9 2828.1L1016.9 2829.2L1017.9 2830.2L1018.9 2831.2L1019.9 2832.2L1020.9 2833.3L1021.9 2834.3L1022.9 2835.3L1023.9 2836.3L1024.9 2837.2L1025.7 2838.0L1025.9 2838.1L1026.9 2839.0L1027.9 2839.9L1028.9 2840.8L1029.9 2841.6L1030.9 2842.4L1031.9 2843.2L1032.9 2844.0L1033.9 2844.9L1034.9 2845.7L1035.8 2846.4L1035.9 2846.4L1036.9 2847.2L1037.9 2848.0L1038.9 2848.8L1039.9 2849.6L1040.9 2850.4L1041.9 2851.2L1042.9 2851.9L1043.9 2852.7L1044.9 2853.4L1045.9 2854.1L1046.0 2854.1L1046.9 2854.8L1047.9 2855.5L1048.9 2856.2L1049.9 2856.9L1050.9 2857.6L1051.9 2858.2L1052.9 2858.9L1053.9 2859.5L1054.9 2860.2L1055.9 2860.8L1056.1 2860.9L1056.9 2861.4L1057.9 2862.0L1058.9 2862.6L1059.9 2863.2L1060.9 2863.8L1061.9 2864.4L1062.9 2865.0L1063.9 2865.5L1064.9 2866.0L1065.9 2866.5L1066.2 2866.6L1066.9 2866.9L1067.9 2867.4L1068.9 2867.8L1069.9 2868.2L1070.9 2868.6L1071.9 2869.0L1072.9 2869.3L1073.9 2869.7L1074.9 2870.0L1075.9 2870.2L1076.3 2870.3L1076.9 2870.5L1077.9 2870.7L1078.9 2870.9L1079.9 2871.1L1080.9 2871.3L1081.9 2871.5L1082.9 2871.6L1083.9 2871.8L1084.9 2871.9L1085.9 2872.0L1086.4 2872.0L1086.9 2872.0L1087.9 2872.1L1088.9 2872.1L1089.9 2872.1L1090.9 2872.2L1091.9 2872.2L1092.9 2872.2L1093.9 2872.3L1094.8 2872.3L1094.9 2872.3L1095.9 2872.5L1096.9 2872.8L1097.9 2873.2L1098.9 2873.7L1099.9 2874.2L1100.9 2874.7L1101.5 2875.0L1101.9 2875.2L1102.9 2875.9L1103.9 2876.6L1104.9 2877.4L1105.9 2878.2L1106.9 2879.0L1107.9 2879.8L1108.3 2880.1L1108.9 2880.6L1109.9 2881.3L1110.9 2882.1L1111.9 2882.9L1112.9 2883.6L1113.9 2884.3L1114.9 2885.0L1115.9 2885.7L1116.7 2886.1L1116.9 2886.3L1117.9 2886.8L1118.9 2887.3L1119.9 2887.8L1120.9 2888.3L1121.9 2888.7L1122.9 2889.1L1123.9 2889.6L1124.9 2890.0L1125.9 2890.5L1126.8 2890.9L1126.9 2890.9L1127.9 2891.4L1128.9 2891.8L1129.9 2892.3L1130.9 2892.8L1131.9 2893.3L1132.9 2893.7L1133.9 2894.2L1134.9 2894.7L1135.9 2895.1L1136.9 2895.6L1136.9 2895.6L1137.9 2896.1L1138.9 2896.7L1139.9 2897.3L1140.9 2897.8L1141.9 2898.3L1142.9 2898.5L1143.7 2898.6L1143.9 2898.6L1144.9 2898.2L1145.9 2897.5L1146.9 2896.7L1147.9 2896.1L1148.7 2895.9L1148.9 2895.9L1149.9 2896.5L1150.9 2897.5L1151.9 2898.5L1152.1 2898.6L1152.9 2899.4L1153.9 2900.3L1154.9 2901.3L1155.9 2902.1L1156.9 2902.6L1157.1 2902.7L1157.9 2902.8L1158.9 2902.9L1159.9 2903.0L1160.5 2903.0L1160.9 2902.9L1161.9 2902.0L1162.9 2900.8L1163.9 2900.3L1163.9 2900.3L1164.9 2900.6L1165.9 2901.4L1166.9 2902.4L1167.9 2903.2L1168.9 2903.7L1168.9 2903.7L1169.9 2903.8L1170.9 2903.9L1171.9 2904.0L1172.9 2904.1L1173.9 2904.1L1174.9 2904.2L1175.9 2904.2L1176.9 2904.3L1177.4 2904.3L1177.9 2904.4L1178.9 2904.5L1179.9 2904.6L1180.9 2904.7L1181.9 2904.8L1182.9 2904.9L1183.9 2905.0L1184.9 2905.1L1185.9 2905.2L1186.9 2905.3L1187.5 2905.4L1187.9 2905.4L1188.9 2905.5L1189.9 2905.6L1190.9 2905.8L1191.9 2905.9L1192.9 2906.0L1193.9 2906.1L1194.9 2906.2L1195.9 2906.3L1196.9 2906.4L1197.6 2906.4L1197.9 2906.3L1198.9 2906.2L1199.9 2906.0L1200.0 2906.0L1200.9 2906.0L1201.9 2906.1L1202.9 2906.2L1203.9 2906.4L1204.9 2906.5L1205.9 2906.7L1206.9 2906.8L1207.9 2906.9L1208.9 2907.0L1209.9 2907.0L1210.1 2907.0L1210.9 2907.0L1211.9 2906.9L1212.9 2906.8L1213.9 2906.7L1214.9 2906.6L1215.9 2906.4L1216.9 2906.3L1217.9 2906.2L1218.9 2906.1L1219.9 2906.0L1220.2 2906.0L1220.9 2906.1L1221.9 2906.4L1222.9 2906.9L1223.9 2907.4L1224.9 2907.9L1225.9 2908.2L1226.9 2908.4L1227.0 2908.4L1227.9 2908.4L1228.9 2908.4L1229.9 2908.4L1230.9 2908.4L1231.9 2908.4L1232.9 2908.4L1233.9 2908.4L1234.9 2908.4L1235.4 2908.4L1235.9 2908.3L1236.9 2907.5L1237.9 2906.3L1238.9 2904.9L1239.9 2903.6L1240.9 2902.5L1241.9 2902.0L1242.1 2902.0L1242.9 2902.2L1243.9 2902.7L1244.9 2903.6L1245.9 2904.5L1246.9 2905.2L1247.2 2905.4L1247.9 2905.8L1248.9 2906.4L1249.9 2907.0L1250.9 2907.5L1251.9 2908.0L1252.9 2908.3L1253.9 2908.4L1253.9 2908.4L1254.9 2908.4L1255.9 2908.4L1256.9 2908.4L1257.9 2908.4L1258.9 2908.4L1259.9 2908.4L1260.9 2908.4L1261.9 2908.4L1262.9 2908.4L1263.9 2908.4L1264.9 2908.4L1265.9 2908.4L1266.9 2908.4L1267.9 2908.4L1268.9 2908.4L1269.9 2908.4L1270.9 2908.4L1271.9 2908.4L1272.9 2908.4L1273.9 2908.4L1274.9 2908.4L1275.9 2908.4L1276.9 2908.4L1277.5 2908.4L1277.9 2908.3L1278.9 2907.7L1279.9 2906.6L1280.9 2905.6L1281.9 2904.8L1282.5 2904.7L1282.9 2904.7L1283.9 2904.8L1284.9 2905.0L1285.9 2905.2L1286.9 2905.5L1287.9 2905.7L1288.9 2906.0L1289.9 2906.2L1290.9 2906.4L1291.0 2906.4L1291.9 2906.5L1292.9 2906.6L1293.9 2906.7L1294.9 2906.7L1295.9 2906.8L1296.9 2906.9L1297.9 2906.9L1298.9 2907.0L1299.9 2907.0L1300.9 2907.0L1301.1 2907.0L1301.9 2907.0L1302.9 2907.0L1303.9 2907.0L1304.9 2907.0L1305.9 2907.0L1306.9 2907.0L1307.9 2907.0L1308.9 2907.0L1309.9 2907.0L1310.9 2907.0L1311.2 2907.0L1311.9 2906.9L1312.9 2906.6L1313.9 2906.1L1314.9 2905.5L1315.9 2904.9L1316.9 2904.5L1317.9 2904.3L1318.9 2904.4L1319.9 2904.5L1320.9 2904.6L1321.9 2904.8L1322.9 2905.0L1323.9 2905.1L1324.9 2905.3L1325.9 2905.3L1326.3 2905.4L1326.9 2905.3L1327.9 2905.2L1328.9 2905.1L1329.9 2904.8L1330.9 2904.6L1331.9 2904.3L1332.9 2903.9L1333.9 2903.6L1334.9 2903.3L1335.9 2903.0L1336.9 2902.7L1337.9 2902.5L1338.9 2902.4L1339.8 2902.3L1339.9 2902.3L1340.9 2902.3L1341.9 2902.3L1342.9 2902.2L1343.9 2902.2L1344.9 2902.2L1345.9 2902.2L1346.9 2902.2L1347.9 2902.2L1348.9 2902.2L1349.9 2902.2L1350.9 2902.1L1351.9 2902.1L1352.9 2902.1L1353.9 2902.1L1354.9 2902.1L1355.9 2902.1L1356.9 2902.0L1357.9 2902.0L1358.4 2902.0L1358.9 2901.9L1359.9 2901.8L1360.9 2901.6L1361.9 2901.4L1362.9 2901.1L1363.9 2900.7L1364.9 2900.4L1365.1 2900.3L1365.9 2899.8L1366.9 2899.0L1367.9 2898.1L1368.9 2897.3L1369.9 2896.9L1370.1 2896.9L1370.9 2897.1L1371.9 2897.5L1372.9 2898.1L1373.9 2898.6L1374.9 2898.9L1375.2 2898.9L1375.9 2898.8L1376.9 2898.2L1377.9 2897.4L1378.9 2896.7L1379.9 2896.3L1380.3 2896.3L1380.9 2896.5L1381.9 2897.2L1382.9 2898.0L1383.6 2898.3L1383.9 2898.3L1384.9 2898.3L1385.9 2898.2L1386.9 2898.1L1387.9 2898.1L1388.9 2898.0L1389.9 2897.8L1390.9 2897.7L1391.9 2897.6L1392.0 2897.6L1392.9 2897.5L1393.9 2897.3L1394.9 2897.1L1395.9 2896.8L1396.9 2896.6L1397.9 2896.3L1398.9 2896.0L1399.9 2895.8L1400.9 2895.5L1401.9 2895.3L1402.2 2895.2L1402.9 2895.1L1403.9 2894.9L1404.9 2894.7L1405.9 2894.5L1406.9 2894.4L1407.9 2894.2L1408.9 2894.0L1409.9 2893.9L1410.9 2893.7L1411.9 2893.5L1412.9 2893.4L1413.9 2893.2L1414.9 2893.0L1415.6 2892.9L1415.9 2892.8L1416.9 2892.6L1417.9 2892.4L1418.9 2892.2L1419.9 2892.0L1420.9 2891.8L1421.9 2891.6L1422.9 2891.4L1423.9 2891.2L1424.9 2891.0L1425.9 2890.8L1426.9 2890.6L1427.9 2890.4L1428.9 2890.2L1429.1 2890.2L1429.9 2890.1L1430.9 2889.9L1431.9 2889.7L1432.9 2889.6L1433.9 2889.5L1434.9 2889.3L1435.9 2889.2L1436.9 2889.0L1437.9 2888.9L1438.9 2888.8L1439.9 2888.6L1440.9 2888.4L1441.9 2888.3L1442.6 2888.2L1442.9 2888.1L1443.9 2887.9L1444.9 2887.7L1445.9 2887.4L1446.9 2887.2L1447.9 2886.9L1448.9 2886.6L1449.9 2886.4L1450.9 2886.1L1451.9 2885.8L1452.9 2885.6L1453.9 2885.3L1454.9 2885.1L1455.9 2884.9L1456.9 2884.7L1457.9 2884.6L1458.9 2884.5L1459.4 2884.5L1459.9 2884.4L1460.9 2884.4L1461.9 2884.4L1462.9 2884.3L1463.9 2884.3L1464.9 2884.3L1465.9 2884.3L1466.9 2884.2L1467.9 2884.2L1468.9 2884.2L1469.5 2884.1L1469.9 2884.1L1470.9 2883.9L1471.9 2883.7L1472.9 2883.4L1473.9 2883.0L1474.9 2882.7L1475.9 2882.3L1476.9 2881.9L1477.9 2881.5L1478.9 2881.3L1479.6 2881.1L1479.9 2881.0L1480.9 2880.9L1481.9 2880.7L1482.9 2880.6L1483.9 2880.5L1484.9 2880.4L1485.9 2880.2L1486.4 2880.1L1486.9 2879.9L1487.9 2879.5L1488.9 2878.9L1489.9 2878.3L1490.9 2877.6L1491.9 2877.0L1492.9 2876.5L1493.9 2876.1L1494.8 2876.0L1494.9 2876.0L1495.9 2876.0L1496.9 2876.0L1497.9 2876.0L1498.9 2876.0L1499.9 2876.0L1500.9 2876.0L1501.9 2876.0L1502.9 2876.0L1503.9 2876.0L1504.9 2876.0L1505.9 2876.0L1506.6 2876.0L1506.9 2876.0L1507.9 2875.9L1508.9 2875.8L1509.9 2875.5L1510.9 2875.2L1511.9 2874.9L1512.9 2874.6L1513.9 2874.2L1514.9 2873.9L1515.9 2873.6L1516.7 2873.3L1516.9 2873.3L1517.9 2873.1L1518.9 2872.9L1519.9 2872.7L1520.9 2872.5L1521.9 2872.4L1522.9 2872.2L1523.9 2872.1L1524.9 2871.9L1525.9 2871.7L1526.9 2871.5L1527.9 2871.3L1528.9 2871.0L1529.9 2870.7L1530.9 2870.3L1531.9 2870.0L1531.9 2870.0L1532.9 2869.0L1533.9 2867.7L1534.9 2866.7L1535.2 2866.6L1535.9 2866.5L1536.9 2866.3L1537.9 2866.2L1538.9 2866.1L1539.9 2866.0L1540.9 2865.9L1541.9 2865.8L1542.9 2865.7L1543.7 2865.6L1543.9 2865.5L1544.9 2865.3L1545.9 2864.9L1546.9 2864.4L1547.9 2863.9L1548.9 2863.3L1549.9 2862.8L1550.9 2862.4L1551.9 2862.0L1552.9 2861.7L1553.8 2861.5L1553.9 2861.5L1554.9 2861.5L1555.9 2861.4L1556.9 2861.3L1557.9 2861.3L1558.9 2861.3L1559.9 2861.2L1560.9 2861.2L1561.9 2861.2L1562.9 2861.2L1563.9 2861.1L1564.9 2861.1L1565.9 2861.0L1566.9 2860.9L1567.3 2860.9L1567.9 2860.8L1568.9 2860.4L1569.9 2860.0L1570.9 2859.5L1571.9 2859.0L1572.9 2858.6L1573.0 2858.6L1573.9 2858.3L1574.9 2858.0L1575.9 2857.7L1576.9 2857.4L1577.9 2857.2L1578.9 2856.9L1579.9 2856.7L1580.9 2856.4L1581.9 2856.2L1582.9 2855.9L1583.1 2855.9L1583.9 2855.7L1584.9 2855.5L1585.9 2855.2L1586.9 2855.0L1587.9 2854.8L1588.9 2854.6L1589.9 2854.4L1590.9 2854.2L1591.9 2853.9L1592.9 2853.6L1593.2 2853.5L1593.9 2853.3L1594.9 2853.0L1595.9 2852.6L1596.9 2852.2L1597.9 2851.8L1598.9 2851.3L1599.9 2850.9L1600.0 2850.8L1600.9 2850.2L1601.9 2849.4L1602.9 2848.6L1603.9 2847.9L1604.9 2847.5L1605.0 2847.5L1605.9 2847.3L1606.9 2847.2L1607.9 2847.1L1608.9 2847.0L1609.9 2846.8L1610.1 2846.8L1610.9 2846.4L1611.9 2845.6L1612.9 2844.7L1613.9 2843.8L1614.9 2843.4L1615.1 2843.4L1615.9 2843.5L1616.9 2843.6L1617.9 2843.8L1618.9 2844.0L1619.9 2844.1L1620.2 2844.1L1620.9 2844.1L1621.9 2843.9L1622.9 2843.7L1623.9 2843.4L1624.9 2843.1L1625.9 2842.8L1626.9 2842.4L1626.9 2842.4L1627.9 2842.0L1628.9 2841.5L1629.9 2840.9L1630.9 2840.2L1631.9 2839.5L1632.9 2838.8L1633.9 2838.0L1634.9 2837.4L1635.9 2836.8L1636.9 2836.3L1637.9 2835.9L1638.7 2835.7L1638.9 2835.6L1639.9 2835.5L1640.9 2835.4L1641.9 2835.3L1642.9 2835.2L1643.8 2835.0L1643.9 2834.9L1644.9 2832.0L1645.9 2827.5L1646.9 2824.2L1647.1 2823.9L1647.9 2823.1L1648.9 2822.4L1649.8 2822.2L1649.9 2822.2L1650.9 2823.1L1651.9 2824.9L1652.9 2826.8L1653.9 2827.9L1653.9 2828.0L1654.9 2828.6L1655.9 2829.1L1656.9 2829.6L1657.9 2829.8L1658.9 2829.9L1658.9 2829.9L1659.9 2829.9L1660.9 2829.7L1661.9 2829.5L1662.9 2829.2L1663.9 2828.8L1664.9 2828.5L1665.7 2828.3L1665.9 2828.2L1666.9 2827.9L1667.9 2827.5L1668.9 2827.2L1669.9 2826.8L1670.9 2826.4L1671.9 2826.0L1672.9 2825.6L1673.9 2825.1L1674.9 2824.7L1675.9 2824.3L1676.9 2823.8L1677.9 2823.4L1678.9 2823.0L1679.9 2822.6L1680.8 2822.2L1680.9 2822.2L1681.9 2821.7L1682.9 2821.3L1683.9 2820.9L1684.9 2820.5L1685.9 2820.1L1686.9 2819.7L1687.9 2819.3L1688.9 2818.9L1689.9 2818.5L1690.9 2818.1L1691.9 2817.7L1692.9 2817.2L1693.9 2816.8L1694.9 2816.4L1695.9 2816.0L1696.9 2815.6L1697.9 2815.1L1698.9 2814.7L1699.9 2814.3L1700.9 2813.8L1701.0 2813.8L1701.9 2813.4L1702.9 2812.9L1703.9 2812.5L1704.9 2812.0L1705.9 2811.6L1706.9 2811.1L1707.9 2810.6L1708.9 2810.2L1709.9 2809.7L1710.9 2809.2L1711.9 2808.7L1712.9 2808.3L1713.9 2807.8L1714.9 2807.3L1715.9 2806.8L1716.9 2806.4L1717.9 2805.9L1718.9 2805.4L1719.9 2804.9L1720.9 2804.5L1721.2 2804.3L1721.9 2804.0L1722.9 2803.6L1723.9 2803.1L1724.9 2802.7L1725.9 2802.2L1726.9 2801.8L1727.9 2801.3L1728.9 2800.9L1729.9 2800.5L1730.9 2800.0L1731.9 2799.6L1732.9 2799.1L1733.9 2798.7L1734.9 2798.2L1735.9 2797.8L1736.9 2797.3L1737.9 2796.9L1738.9 2796.4L1739.9 2796.0L1740.9 2795.5L1741.5 2795.2L1741.9 2795.0L1742.9 2794.6L1743.9 2794.1L1744.9 2793.6L1745.9 2793.2L1746.9 2792.7L1747.9 2792.3L1748.9 2791.8L1749.9 2791.3L1750.9 2790.8L1751.9 2790.3L1752.9 2789.8L1753.9 2789.3L1754.9 2788.8L1755.9 2788.2L1756.9 2787.7L1757.9 2787.1L1758.3 2786.8L1758.9 2786.4L1759.9 2785.6L1760.9 2784.8L1761.9 2783.9L1762.9 2783.0L1763.9 2782.3L1764.9 2781.8L1765.0 2781.8L1765.9 2781.5L1766.9 2781.2L1767.9 2780.9L1768.9 2780.7L1769.9 2780.5L1770.9 2780.4L1771.9 2780.2L1772.9 2780.0L1773.9 2779.8L1774.9 2779.5L1775.2 2779.4L1775.9 2779.2L1776.9 2778.8L1777.9 2778.4L1778.9 2777.9L1779.9 2777.5L1780.9 2777.0L1781.9 2776.5L1782.9 2775.9L1783.9 2775.4L1784.9 2774.8L1785.9 2774.2L1786.9 2773.7L1787.9 2773.1L1788.6 2772.7L1788.9 2772.5L1789.9 2771.9L1790.9 2771.2L1791.9 2770.5L1792.9 2769.7L1793.9 2769.0L1794.9 2768.2L1795.9 2767.5L1796.9 2766.9L1797.9 2766.3L1798.7 2765.9L1798.9 2765.8L1799.9 2765.4L1800.9 2765.1L1801.9 2764.7L1802.9 2764.4L1803.9 2764.1L1804.9 2763.8L1805.9 2763.5L1806.9 2763.2L1807.9 2762.9L1808.8 2762.6L1808.9 2762.5L1809.9 2762.1L1810.9 2761.7L1811.9 2761.3L1812.9 2760.9L1813.9 2760.5L1814.9 2760.0L1815.9 2759.6L1816.9 2759.1L1817.9 2758.6L1818.9 2758.1L1819.9 2757.7L1820.9 2757.2L1821.9 2756.7L1822.3 2756.5L1822.9 2756.2L1823.9 2755.7L1824.9 2755.2L1825.9 2754.7L1826.9 2754.2L1827.9 2753.6L1828.9 2753.1L1829.9 2752.5L1830.9 2752.0L1831.9 2751.4L1832.9 2750.9L1833.9 2750.3L1834.9 2749.8L1835.9 2749.2L1836.9 2748.7L1837.9 2748.1L1838.9 2747.5L1839.2 2747.4L1839.9 2747.0L1840.9 2746.4L1841.9 2745.9L1842.9 2745.3L1843.9 2744.7L1844.9 2744.2L1845.9 2743.6L1846.9 2743.0L1847.9 2742.4L1848.9 2741.9L1849.9 2741.3L1850.9 2740.7L1851.9 2740.1L1852.6 2739.6L1852.9 2739.5L1853.9 2738.9L1854.9 2738.3L1855.9 2737.6L1856.9 2737.0L1857.9 2736.4L1858.9 2735.7L1859.9 2735.1L1860.9 2734.4L1861.9 2733.8L1862.9 2733.1L1863.9 2732.5L1864.9 2731.8L1865.9 2731.2L1866.9 2730.5L1867.9 2729.9L1868.9 2729.2L1869.5 2728.9L1869.9 2728.6L1870.9 2727.9L1871.9 2727.3L1872.9 2726.6L1873.9 2726.0L1874.9 2725.3L1875.9 2724.7L1876.9 2724.0L1877.9 2723.3L1878.9 2722.7L1879.9 2722.0L1880.9 2721.4L1881.9 2720.8L1882.9 2720.1L1883.0 2720.1L1883.9 2719.5L1884.9 2718.9L1885.9 2718.3L1886.9 2717.7L1887.9 2717.1L1888.9 2716.5L1889.9 2715.9L1890.9 2715.4L1891.9 2714.8L1892.9 2714.2L1893.9 2713.6L1894.9 2713.0L1895.9 2712.3L1896.5 2712.0L1896.9 2711.7L1897.9 2711.1L1898.9 2710.5L1899.9 2709.8L1900.9 2709.2L1901.9 2708.6L1902.9 2707.9L1903.9 2707.3L1904.9 2706.6L1905.9 2706.0L1906.9 2705.3L1907.9 2704.6L1908.9 2704.0L1909.9 2703.3L1909.9 2703.3L1910.9 2702.6L1911.9 2701.9L1912.9 2701.1L1913.9 2700.4L1914.9 2699.7L1915.9 2698.9L1916.9 2698.2L1917.9 2697.4L1918.9 2696.7L1919.9 2695.9L1920.0 2695.8L1920.9 2695.2L1921.9 2694.4L1922.9 2693.6L1923.9 2692.8L1924.9 2692.0L1925.9 2691.3L1926.8 2690.8L1926.9 2690.7L1927.9 2690.2L1928.9 2689.7L1929.9 2689.2L1930.1 2689.1" fill="none" stroke="#ff0000" stroke-width="3.0" stroke-linejoin="round" stroke-linecap="butt" shape-rendering="crispEdges"/>
<g fill="#000" shape-rendering="crispEdges">
<rect x="277" y="1845" width="1722" height="6"/>
<rect x="277" y="3098" width="1724" height="6"/>
<rect x="277" y="1845" width="6" height="1259"/>
<rect x="1996" y="1847" width="5" height="1257"/>
<rect x="552" y="3101" width="5" height="25"/>
<rect x="896" y="3101" width="5" height="25"/>
<rect x="1240" y="3101" width="5" height="25"/>
<rect x="1583" y="3101" width="5" height="25"/>
<rect x="1927" y="3101" width="5" height="25"/>
<rect x="380" y="3101" width="6" height="13"/>
<rect x="724" y="3101" width="6" height="13"/>
<rect x="1067" y="3101" width="6" height="13"/>
<rect x="1411" y="3101" width="6" height="13"/>
<rect x="1755" y="3101" width="6" height="13"/>
</g>
<text transform="translate(524.53 3184.90) scale(1 0.9800)" font-size="55.00">50</text>
<text transform="translate(853.60 3184.90) scale(1 0.9800)" font-size="55.00">100</text>
<text transform="translate(1196.60 3184.90) scale(1 0.9800)" font-size="55.00">150</text>
<text transform="translate(1540.81 3184.90) scale(1 0.9800)" font-size="55.00">200</text>
<text transform="translate(1883.36 3184.90) scale(1 0.9800)" font-size="55.00">250</text>
<text transform="translate(0 3298.00) scale(1 1.01)" font-size="67.72"><tspan x="888.28" y="0">Temperatue</tspan><tspan> </tspan><tspan x="1271.90" y="0">(</tspan><tspan x="1295.18" y="-33.37" font-size="38.6">o</tspan><tspan x="1316.16" y="0">C</tspan><tspan x="1365.05" y="0">)</tspan></text>
<text transform="translate(212.20 3060.54) rotate(-90) scale(1 1.0570)" font-size="66.29">Normalized Heat Flow (W/g)</text>
<text transform="translate(183.10 2200.44) rotate(-90) scale(1 1.0500)" font-size="66.33">Endo Up</text>
<rect x="220" y="1950" width="2" height="259" fill="#000" shape-rendering="crispEdges"/>
<path d="M221 1919.5 L230.2 1954 L211.8 1954 Z" fill="#000" shape-rendering="crispEdges"/>
<rect x="320" y="1876.5" width="616.5" height="166" fill="#fff" stroke="#000" stroke-width="3" shape-rendering="crispEdges"/>
<rect x="357" y="1922" width="152" height="3" fill="#000" shape-rendering="crispEdges"/>
<text transform="translate(525.94 1946.20) scale(1 1.0185)" font-size="67.74">Pacli</text>
<rect x="357" y="2003" width="152" height="3" fill="#ff0000" shape-rendering="crispEdges"/>
<text transform="translate(525.97 2028.00) scale(1 1.0185)" font-size="67.42">Fe-BTC-PTX</text>
<text transform="translate(1415.49 1935.20) scale(1 1.0000)" font-size="67.75">234.5</text>
<path d="M1602.2 1912.3 L1712 1936.5" stroke="#000" stroke-width="2.2" fill="none" shape-rendering="crispEdges"/>
<path d="M1737 1942 L1702 1943.8 L1706.7 1925.8 Z" fill="#000" shape-rendering="crispEdges"/>
<text class="serif" font-size="86.0" y="3433.6"><tspan x="1018.92">(</tspan><tspan x="1047.28" font-weight="bold">b</tspan><tspan x="1095.44">)</tspan></text>
</g>
</svg></body></html>
